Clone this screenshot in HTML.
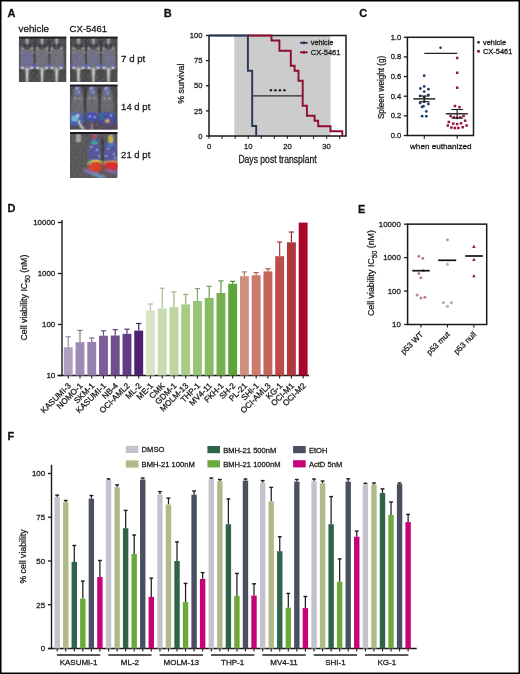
<!DOCTYPE html>
<html><head><meta charset="utf-8"><style>
html,body{margin:0;padding:0;background:#fff;}
svg{display:block;will-change:transform;}
text{font-family:"Liberation Sans", sans-serif;stroke:#1a1a1a;stroke-width:0.28px;paint-order:stroke;}
</style></head><body>
<svg width="520" height="674" viewBox="0 0 520 674">
<rect x="0" y="0" width="520" height="674" fill="#fff"/>
<text x="7.60" y="17.20" font-size="11" text-anchor="start" fill="#111" font-weight="bold" >A</text>
<text x="163.80" y="17.30" font-size="11" text-anchor="start" fill="#111" font-weight="bold" >B</text>
<text x="359.30" y="17.30" font-size="11" text-anchor="start" fill="#111" font-weight="bold" >C</text>
<text x="7.60" y="212.40" font-size="11" text-anchor="start" fill="#111" font-weight="bold" >D</text>
<text x="358.00" y="212.50" font-size="11" text-anchor="start" fill="#111" font-weight="bold" >E</text>
<text x="7.60" y="439.70" font-size="11" text-anchor="start" fill="#111" font-weight="bold" >F</text>
<defs><linearGradient id="bgA" x1="0" y1="0" x2="0" y2="1"><stop offset="0" stop-color="#3a3a3a"/><stop offset="0.15" stop-color="#555"/><stop offset="1" stop-color="#4a4a4a"/></linearGradient><radialGradient id="mouse" cx="0.5" cy="0.45" r="0.6"><stop offset="0" stop-color="#7a7a80"/><stop offset="1" stop-color="#5a5a60"/></radialGradient><filter id="blur1" x="-50%" y="-50%" width="200%" height="200%"><feGaussianBlur stdDeviation="0.85"/></filter><filter id="noise" x="0" y="0" width="100%" height="100%"><feTurbulence type="fractalNoise" baseFrequency="0.45" numOctaves="2" seed="3"/><feColorMatrix type="matrix" values="0 0 0 0 0.5  0 0 0 0 0.5  0 0 0 0 0.5  1.6 0 0 0 -0.55"/></filter><filter id="noise2" x="0" y="0" width="100%" height="100%"><feTurbulence type="fractalNoise" baseFrequency="0.5" numOctaves="2" seed="7"/><feColorMatrix type="matrix" values="0 0 0 0 0.08  0 0 0 0 0.08  0 0 0 0 0.1  1.6 0 0 0 -0.6"/></filter><filter id="blur2" x="-50%" y="-50%" width="200%" height="200%"><feGaussianBlur stdDeviation="1.6"/></filter></defs>
<text x="18.60" y="31.70" font-size="9.7" text-anchor="start" fill="#1a1a1a" textLength="30.4" lengthAdjust="spacingAndGlyphs" >vehicle</text>
<text x="69.60" y="31.70" font-size="9.7" text-anchor="start" fill="#1a1a1a" textLength="37.5" lengthAdjust="spacingAndGlyphs" >CX-5461</text>
<text x="121.10" y="62.20" font-size="9.8" text-anchor="start" fill="#1a1a1a" textLength="24.2" lengthAdjust="spacingAndGlyphs" >7 d pt</text>
<text x="121.10" y="109.90" font-size="9.8" text-anchor="start" fill="#1a1a1a" textLength="29.2" lengthAdjust="spacingAndGlyphs" >14 d pt</text>
<text x="121.10" y="158.00" font-size="9.8" text-anchor="start" fill="#1a1a1a" textLength="29.2" lengthAdjust="spacingAndGlyphs" >21 d pt</text>
<g transform="translate(18.80,36.50)">
<clipPath id="cp18_36"><rect x="0" y="0" width="47.70" height="45.50"/></clipPath>
<g clip-path="url(#cp18_36)">
<rect x="0.00" y="0.00" width="47.70" height="45.50" fill="#4a4a4c" />
<rect x="0.5" y="0" width="1" height="45.50" fill="#000" opacity="0.06"/>
<rect x="3.5" y="0" width="1" height="45.50" fill="#000" opacity="0.06"/>
<rect x="6.5" y="0" width="1" height="45.50" fill="#000" opacity="0.06"/>
<rect x="9.5" y="0" width="1" height="45.50" fill="#000" opacity="0.06"/>
<rect x="12.5" y="0" width="1" height="45.50" fill="#000" opacity="0.06"/>
<rect x="15.5" y="0" width="1" height="45.50" fill="#000" opacity="0.06"/>
<rect x="18.5" y="0" width="1" height="45.50" fill="#000" opacity="0.06"/>
<rect x="21.5" y="0" width="1" height="45.50" fill="#000" opacity="0.06"/>
<rect x="24.5" y="0" width="1" height="45.50" fill="#000" opacity="0.06"/>
<rect x="27.5" y="0" width="1" height="45.50" fill="#000" opacity="0.06"/>
<rect x="30.5" y="0" width="1" height="45.50" fill="#000" opacity="0.06"/>
<rect x="33.5" y="0" width="1" height="45.50" fill="#000" opacity="0.06"/>
<rect x="36.5" y="0" width="1" height="45.50" fill="#000" opacity="0.06"/>
<rect x="39.5" y="0" width="1" height="45.50" fill="#000" opacity="0.06"/>
<rect x="42.5" y="0" width="1" height="45.50" fill="#000" opacity="0.06"/>
<rect x="45.5" y="0" width="1" height="45.50" fill="#000" opacity="0.06"/>
<g filter="url(#blur1)">
<path d="M6.10,4.00 Q8.30,2.50 10.50,4.00 L13.38,11.12 Q16.28,21.10 14.83,32.50 L1.78,32.50 Q0.33,21.10 3.23,11.12 Z" fill="#727276"/><ellipse cx="8.30" cy="6.50" rx="2.2" ry="3.2" fill="#56565a"/>
<path d="M21.10,4.00 Q23.30,2.50 25.50,4.00 L28.38,11.12 Q31.28,21.10 29.83,32.50 L16.77,32.50 Q15.32,21.10 18.23,11.12 Z" fill="#727276"/><ellipse cx="23.30" cy="6.50" rx="2.2" ry="3.2" fill="#56565a"/>
<path d="M35.60,4.00 Q37.80,2.50 40.00,4.00 L42.88,11.12 Q45.77,21.10 44.32,32.50 L31.27,32.50 Q29.82,21.10 32.72,11.12 Z" fill="#727276"/><ellipse cx="37.80" cy="6.50" rx="2.2" ry="3.2" fill="#56565a"/>
<rect x="14.80" y="5" width="2.0" height="22" fill="#2e2e30" opacity="0.7"/>
<rect x="29.55" y="5" width="2.0" height="22" fill="#2e2e30" opacity="0.7"/>
<ellipse cx="8.30" cy="9" rx="4.2" ry="4" fill="#4a4a4e"/>
<rect x="7.30" y="0.5" width="2.0" height="7" rx="1" fill="#c4c4c8"/>
<circle cx="5.50" cy="9.5" r="1.2" fill="#222226"/><circle cx="11.10" cy="9.5" r="1.2" fill="#222226"/>
<circle cx="3.50" cy="12" r="1.2" fill="#a8a8ae"/><circle cx="13.10" cy="12" r="1.2" fill="#a8a8ae"/>
<circle cx="2.50" cy="16" r="1.0" fill="#9a9aa0"/><circle cx="14.10" cy="16" r="1.0" fill="#9a9aa0"/>
<ellipse cx="8.30" cy="22" rx="5.5" ry="7" fill="#6a6ac8" opacity="0.45"/>
<ellipse cx="3.30" cy="29.5" rx="2.4" ry="2" fill="#5a5ae0" opacity="0.6"/><ellipse cx="13.30" cy="29.5" rx="2.4" ry="2" fill="#5a5ae0" opacity="0.6"/>
<ellipse cx="3.80" cy="31.5" rx="1.6" ry="1.3" fill="#ececf0"/><ellipse cx="12.80" cy="31.5" rx="1.6" ry="1.3" fill="#ececf0"/>
<ellipse cx="2.80" cy="33.5" rx="2" ry="1" fill="#2a2a2c" opacity="0.8"/><ellipse cx="13.80" cy="33.5" rx="2" ry="1" fill="#2a2a2c" opacity="0.8"/>
<path d="M7.20,32 L9.40,32 L9.00,45.5 L7.60,45.5 Z" fill="#f4f4f4"/>
<ellipse cx="8.30" cy="32.5" rx="2" ry="1.6" fill="#c8c8cc"/>
<ellipse cx="23.30" cy="9" rx="4.2" ry="4" fill="#4a4a4e"/>
<rect x="22.30" y="0.5" width="2.0" height="7" rx="1" fill="#c4c4c8"/>
<circle cx="20.50" cy="9.5" r="1.2" fill="#222226"/><circle cx="26.10" cy="9.5" r="1.2" fill="#222226"/>
<circle cx="18.50" cy="12" r="1.2" fill="#a8a8ae"/><circle cx="28.10" cy="12" r="1.2" fill="#a8a8ae"/>
<circle cx="17.50" cy="16" r="1.0" fill="#9a9aa0"/><circle cx="29.10" cy="16" r="1.0" fill="#9a9aa0"/>
<ellipse cx="23.30" cy="22" rx="5.5" ry="7" fill="#6a6ac8" opacity="0.15"/>
<ellipse cx="18.30" cy="29.5" rx="2.4" ry="2" fill="#5a5ae0" opacity="0.6"/><ellipse cx="28.30" cy="29.5" rx="2.4" ry="2" fill="#5a5ae0" opacity="0.6"/>
<ellipse cx="18.80" cy="31.5" rx="1.6" ry="1.3" fill="#ececf0"/><ellipse cx="27.80" cy="31.5" rx="1.6" ry="1.3" fill="#ececf0"/>
<ellipse cx="17.80" cy="33.5" rx="2" ry="1" fill="#2a2a2c" opacity="0.8"/><ellipse cx="28.80" cy="33.5" rx="2" ry="1" fill="#2a2a2c" opacity="0.8"/>
<path d="M22.20,32 L24.40,32 L24.00,45.5 L22.60,45.5 Z" fill="#f4f4f4"/>
<ellipse cx="23.30" cy="32.5" rx="2" ry="1.6" fill="#c8c8cc"/>
<ellipse cx="37.80" cy="9" rx="4.2" ry="4" fill="#4a4a4e"/>
<rect x="36.80" y="0.5" width="2.0" height="7" rx="1" fill="#c4c4c8"/>
<circle cx="35.00" cy="9.5" r="1.2" fill="#222226"/><circle cx="40.60" cy="9.5" r="1.2" fill="#222226"/>
<circle cx="33.00" cy="12" r="1.2" fill="#a8a8ae"/><circle cx="42.60" cy="12" r="1.2" fill="#a8a8ae"/>
<circle cx="32.00" cy="16" r="1.0" fill="#9a9aa0"/><circle cx="43.60" cy="16" r="1.0" fill="#9a9aa0"/>
<ellipse cx="37.80" cy="22" rx="5.5" ry="7" fill="#6a6ac8" opacity="0.1"/>
<ellipse cx="32.80" cy="29.5" rx="2.4" ry="2" fill="#5a5ae0" opacity="0.6"/><ellipse cx="42.80" cy="29.5" rx="2.4" ry="2" fill="#5a5ae0" opacity="0.6"/>
<ellipse cx="33.30" cy="31.5" rx="1.6" ry="1.3" fill="#ececf0"/><ellipse cx="42.30" cy="31.5" rx="1.6" ry="1.3" fill="#ececf0"/>
<ellipse cx="32.30" cy="33.5" rx="2" ry="1" fill="#2a2a2c" opacity="0.8"/><ellipse cx="43.30" cy="33.5" rx="2" ry="1" fill="#2a2a2c" opacity="0.8"/>
<path d="M36.70,32 L38.90,32 L38.50,45.5 L37.10,45.5 Z" fill="#f4f4f4"/>
<ellipse cx="37.80" cy="32.5" rx="2" ry="1.6" fill="#c8c8cc"/>
</g>
<g opacity="0.45">
<path d="M6.10,4.00 Q8.30,2.50 10.50,4.00 L13.38,11.12 Q16.28,21.10 14.83,32.50 L1.78,32.50 Q0.33,21.10 3.23,11.12 Z" fill="#727276"/><ellipse cx="8.30" cy="6.50" rx="2.2" ry="3.2" fill="#56565a"/>
<path d="M21.10,4.00 Q23.30,2.50 25.50,4.00 L28.38,11.12 Q31.28,21.10 29.83,32.50 L16.77,32.50 Q15.32,21.10 18.23,11.12 Z" fill="#727276"/><ellipse cx="23.30" cy="6.50" rx="2.2" ry="3.2" fill="#56565a"/>
<path d="M35.60,4.00 Q37.80,2.50 40.00,4.00 L42.88,11.12 Q45.77,21.10 44.32,32.50 L31.27,32.50 Q29.82,21.10 32.72,11.12 Z" fill="#727276"/><ellipse cx="37.80" cy="6.50" rx="2.2" ry="3.2" fill="#56565a"/>
<rect x="14.80" y="5" width="2.0" height="22" fill="#2e2e30" opacity="0.7"/>
<rect x="29.55" y="5" width="2.0" height="22" fill="#2e2e30" opacity="0.7"/>
<ellipse cx="8.30" cy="9" rx="4.2" ry="4" fill="#4a4a4e"/>
<rect x="7.30" y="0.5" width="2.0" height="7" rx="1" fill="#c4c4c8"/>
<circle cx="5.50" cy="9.5" r="1.2" fill="#222226"/><circle cx="11.10" cy="9.5" r="1.2" fill="#222226"/>
<circle cx="3.50" cy="12" r="1.2" fill="#a8a8ae"/><circle cx="13.10" cy="12" r="1.2" fill="#a8a8ae"/>
<circle cx="2.50" cy="16" r="1.0" fill="#9a9aa0"/><circle cx="14.10" cy="16" r="1.0" fill="#9a9aa0"/>
<ellipse cx="8.30" cy="22" rx="5.5" ry="7" fill="#6a6ac8" opacity="0.45"/>
<ellipse cx="3.30" cy="29.5" rx="2.4" ry="2" fill="#5a5ae0" opacity="0.6"/><ellipse cx="13.30" cy="29.5" rx="2.4" ry="2" fill="#5a5ae0" opacity="0.6"/>
<ellipse cx="3.80" cy="31.5" rx="1.6" ry="1.3" fill="#ececf0"/><ellipse cx="12.80" cy="31.5" rx="1.6" ry="1.3" fill="#ececf0"/>
<ellipse cx="2.80" cy="33.5" rx="2" ry="1" fill="#2a2a2c" opacity="0.8"/><ellipse cx="13.80" cy="33.5" rx="2" ry="1" fill="#2a2a2c" opacity="0.8"/>
<path d="M7.20,32 L9.40,32 L9.00,45.5 L7.60,45.5 Z" fill="#f4f4f4"/>
<ellipse cx="8.30" cy="32.5" rx="2" ry="1.6" fill="#c8c8cc"/>
<ellipse cx="23.30" cy="9" rx="4.2" ry="4" fill="#4a4a4e"/>
<rect x="22.30" y="0.5" width="2.0" height="7" rx="1" fill="#c4c4c8"/>
<circle cx="20.50" cy="9.5" r="1.2" fill="#222226"/><circle cx="26.10" cy="9.5" r="1.2" fill="#222226"/>
<circle cx="18.50" cy="12" r="1.2" fill="#a8a8ae"/><circle cx="28.10" cy="12" r="1.2" fill="#a8a8ae"/>
<circle cx="17.50" cy="16" r="1.0" fill="#9a9aa0"/><circle cx="29.10" cy="16" r="1.0" fill="#9a9aa0"/>
<ellipse cx="23.30" cy="22" rx="5.5" ry="7" fill="#6a6ac8" opacity="0.15"/>
<ellipse cx="18.30" cy="29.5" rx="2.4" ry="2" fill="#5a5ae0" opacity="0.6"/><ellipse cx="28.30" cy="29.5" rx="2.4" ry="2" fill="#5a5ae0" opacity="0.6"/>
<ellipse cx="18.80" cy="31.5" rx="1.6" ry="1.3" fill="#ececf0"/><ellipse cx="27.80" cy="31.5" rx="1.6" ry="1.3" fill="#ececf0"/>
<ellipse cx="17.80" cy="33.5" rx="2" ry="1" fill="#2a2a2c" opacity="0.8"/><ellipse cx="28.80" cy="33.5" rx="2" ry="1" fill="#2a2a2c" opacity="0.8"/>
<path d="M22.20,32 L24.40,32 L24.00,45.5 L22.60,45.5 Z" fill="#f4f4f4"/>
<ellipse cx="23.30" cy="32.5" rx="2" ry="1.6" fill="#c8c8cc"/>
<ellipse cx="37.80" cy="9" rx="4.2" ry="4" fill="#4a4a4e"/>
<rect x="36.80" y="0.5" width="2.0" height="7" rx="1" fill="#c4c4c8"/>
<circle cx="35.00" cy="9.5" r="1.2" fill="#222226"/><circle cx="40.60" cy="9.5" r="1.2" fill="#222226"/>
<circle cx="33.00" cy="12" r="1.2" fill="#a8a8ae"/><circle cx="42.60" cy="12" r="1.2" fill="#a8a8ae"/>
<circle cx="32.00" cy="16" r="1.0" fill="#9a9aa0"/><circle cx="43.60" cy="16" r="1.0" fill="#9a9aa0"/>
<ellipse cx="37.80" cy="22" rx="5.5" ry="7" fill="#6a6ac8" opacity="0.1"/>
<ellipse cx="32.80" cy="29.5" rx="2.4" ry="2" fill="#5a5ae0" opacity="0.6"/><ellipse cx="42.80" cy="29.5" rx="2.4" ry="2" fill="#5a5ae0" opacity="0.6"/>
<ellipse cx="33.30" cy="31.5" rx="1.6" ry="1.3" fill="#ececf0"/><ellipse cx="42.30" cy="31.5" rx="1.6" ry="1.3" fill="#ececf0"/>
<ellipse cx="32.30" cy="33.5" rx="2" ry="1" fill="#2a2a2c" opacity="0.8"/><ellipse cx="43.30" cy="33.5" rx="2" ry="1" fill="#2a2a2c" opacity="0.8"/>
<path d="M36.70,32 L38.90,32 L38.50,45.5 L37.10,45.5 Z" fill="#f4f4f4"/>
<ellipse cx="37.80" cy="32.5" rx="2" ry="1.6" fill="#c8c8cc"/>
</g>
<rect x="0" y="0" width="47.70" height="45.50" filter="url(#noise)" opacity="0.22"/>
<rect x="0" y="0" width="47.70" height="45.50" filter="url(#noise2)" opacity="0.3"/>
<rect x="0.00" y="0.00" width="47.70" height="2.00" fill="#1c1c1c" />
</g></g>
<g transform="translate(70.00,36.50)">
<clipPath id="cp70_36"><rect x="0" y="0" width="47.70" height="45.50"/></clipPath>
<g clip-path="url(#cp70_36)">
<rect x="0.00" y="0.00" width="47.70" height="45.50" fill="#4a4a4c" />
<rect x="0.5" y="0" width="1" height="45.50" fill="#000" opacity="0.06"/>
<rect x="3.5" y="0" width="1" height="45.50" fill="#000" opacity="0.06"/>
<rect x="6.5" y="0" width="1" height="45.50" fill="#000" opacity="0.06"/>
<rect x="9.5" y="0" width="1" height="45.50" fill="#000" opacity="0.06"/>
<rect x="12.5" y="0" width="1" height="45.50" fill="#000" opacity="0.06"/>
<rect x="15.5" y="0" width="1" height="45.50" fill="#000" opacity="0.06"/>
<rect x="18.5" y="0" width="1" height="45.50" fill="#000" opacity="0.06"/>
<rect x="21.5" y="0" width="1" height="45.50" fill="#000" opacity="0.06"/>
<rect x="24.5" y="0" width="1" height="45.50" fill="#000" opacity="0.06"/>
<rect x="27.5" y="0" width="1" height="45.50" fill="#000" opacity="0.06"/>
<rect x="30.5" y="0" width="1" height="45.50" fill="#000" opacity="0.06"/>
<rect x="33.5" y="0" width="1" height="45.50" fill="#000" opacity="0.06"/>
<rect x="36.5" y="0" width="1" height="45.50" fill="#000" opacity="0.06"/>
<rect x="39.5" y="0" width="1" height="45.50" fill="#000" opacity="0.06"/>
<rect x="42.5" y="0" width="1" height="45.50" fill="#000" opacity="0.06"/>
<rect x="45.5" y="0" width="1" height="45.50" fill="#000" opacity="0.06"/>
<g filter="url(#blur1)">
<path d="M6.30,4.00 Q8.50,2.50 10.70,4.00 L13.57,11.12 Q16.48,21.10 15.03,32.50 L1.97,32.50 Q0.52,21.10 3.43,11.12 Z" fill="#727276"/><ellipse cx="8.50" cy="6.50" rx="2.2" ry="3.2" fill="#56565a"/>
<path d="M21.30,4.00 Q23.50,2.50 25.70,4.00 L28.57,11.12 Q31.48,21.10 30.02,32.50 L16.98,32.50 Q15.52,21.10 18.43,11.12 Z" fill="#727276"/><ellipse cx="23.50" cy="6.50" rx="2.2" ry="3.2" fill="#56565a"/>
<path d="M36.30,4.00 Q38.50,2.50 40.70,4.00 L43.58,11.12 Q46.48,21.10 45.02,32.50 L31.98,32.50 Q30.52,21.10 33.42,11.12 Z" fill="#727276"/><ellipse cx="38.50" cy="6.50" rx="2.2" ry="3.2" fill="#56565a"/>
<rect x="15.00" y="5" width="2.0" height="22" fill="#2e2e30" opacity="0.7"/>
<rect x="30.00" y="5" width="2.0" height="22" fill="#2e2e30" opacity="0.7"/>
<ellipse cx="8.50" cy="9" rx="4.2" ry="4" fill="#4a4a4e"/>
<rect x="7.50" y="0.5" width="2.0" height="7" rx="1" fill="#c4c4c8"/>
<circle cx="5.70" cy="9.5" r="1.2" fill="#222226"/><circle cx="11.30" cy="9.5" r="1.2" fill="#222226"/>
<circle cx="3.70" cy="12" r="1.2" fill="#a8a8ae"/><circle cx="13.30" cy="12" r="1.2" fill="#a8a8ae"/>
<circle cx="2.70" cy="16" r="1.0" fill="#9a9aa0"/><circle cx="14.30" cy="16" r="1.0" fill="#9a9aa0"/>
<ellipse cx="8.50" cy="22" rx="5.5" ry="7" fill="#6a6ac8" opacity="0.3"/>
<ellipse cx="3.50" cy="29.5" rx="2.4" ry="2" fill="#5a5ae0" opacity="0.6"/><ellipse cx="13.50" cy="29.5" rx="2.4" ry="2" fill="#5a5ae0" opacity="0.6"/>
<ellipse cx="4.00" cy="31.5" rx="1.6" ry="1.3" fill="#ececf0"/><ellipse cx="13.00" cy="31.5" rx="1.6" ry="1.3" fill="#ececf0"/>
<ellipse cx="3.00" cy="33.5" rx="2" ry="1" fill="#2a2a2c" opacity="0.8"/><ellipse cx="14.00" cy="33.5" rx="2" ry="1" fill="#2a2a2c" opacity="0.8"/>
<path d="M7.40,32 L9.60,32 L9.20,45.5 L7.80,45.5 Z" fill="#f4f4f4"/>
<ellipse cx="8.50" cy="32.5" rx="2" ry="1.6" fill="#c8c8cc"/>
<ellipse cx="23.50" cy="9" rx="4.2" ry="4" fill="#4a4a4e"/>
<rect x="22.50" y="0.5" width="2.0" height="7" rx="1" fill="#c4c4c8"/>
<circle cx="20.70" cy="9.5" r="1.2" fill="#222226"/><circle cx="26.30" cy="9.5" r="1.2" fill="#222226"/>
<circle cx="18.70" cy="12" r="1.2" fill="#a8a8ae"/><circle cx="28.30" cy="12" r="1.2" fill="#a8a8ae"/>
<circle cx="17.70" cy="16" r="1.0" fill="#9a9aa0"/><circle cx="29.30" cy="16" r="1.0" fill="#9a9aa0"/>
<ellipse cx="23.50" cy="22" rx="5.5" ry="7" fill="#6a6ac8" opacity="0.35"/>
<ellipse cx="18.50" cy="29.5" rx="2.4" ry="2" fill="#5a5ae0" opacity="0.6"/><ellipse cx="28.50" cy="29.5" rx="2.4" ry="2" fill="#5a5ae0" opacity="0.6"/>
<ellipse cx="19.00" cy="31.5" rx="1.6" ry="1.3" fill="#ececf0"/><ellipse cx="28.00" cy="31.5" rx="1.6" ry="1.3" fill="#ececf0"/>
<ellipse cx="18.00" cy="33.5" rx="2" ry="1" fill="#2a2a2c" opacity="0.8"/><ellipse cx="29.00" cy="33.5" rx="2" ry="1" fill="#2a2a2c" opacity="0.8"/>
<path d="M22.40,32 L24.60,32 L24.20,45.5 L22.80,45.5 Z" fill="#f4f4f4"/>
<ellipse cx="23.50" cy="32.5" rx="2" ry="1.6" fill="#c8c8cc"/>
<ellipse cx="38.50" cy="9" rx="4.2" ry="4" fill="#4a4a4e"/>
<rect x="37.50" y="0.5" width="2.0" height="7" rx="1" fill="#c4c4c8"/>
<circle cx="35.70" cy="9.5" r="1.2" fill="#222226"/><circle cx="41.30" cy="9.5" r="1.2" fill="#222226"/>
<circle cx="33.70" cy="12" r="1.2" fill="#a8a8ae"/><circle cx="43.30" cy="12" r="1.2" fill="#a8a8ae"/>
<circle cx="32.70" cy="16" r="1.0" fill="#9a9aa0"/><circle cx="44.30" cy="16" r="1.0" fill="#9a9aa0"/>
<ellipse cx="38.50" cy="22" rx="5.5" ry="7" fill="#6a6ac8" opacity="0.3"/>
<ellipse cx="33.50" cy="29.5" rx="2.4" ry="2" fill="#5a5ae0" opacity="0.6"/><ellipse cx="43.50" cy="29.5" rx="2.4" ry="2" fill="#5a5ae0" opacity="0.6"/>
<ellipse cx="34.00" cy="31.5" rx="1.6" ry="1.3" fill="#ececf0"/><ellipse cx="43.00" cy="31.5" rx="1.6" ry="1.3" fill="#ececf0"/>
<ellipse cx="33.00" cy="33.5" rx="2" ry="1" fill="#2a2a2c" opacity="0.8"/><ellipse cx="44.00" cy="33.5" rx="2" ry="1" fill="#2a2a2c" opacity="0.8"/>
<path d="M37.40,32 L39.60,32 L39.20,45.5 L37.80,45.5 Z" fill="#f4f4f4"/>
<ellipse cx="38.50" cy="32.5" rx="2" ry="1.6" fill="#c8c8cc"/>
</g>
<g opacity="0.45">
<path d="M6.30,4.00 Q8.50,2.50 10.70,4.00 L13.57,11.12 Q16.48,21.10 15.03,32.50 L1.97,32.50 Q0.52,21.10 3.43,11.12 Z" fill="#727276"/><ellipse cx="8.50" cy="6.50" rx="2.2" ry="3.2" fill="#56565a"/>
<path d="M21.30,4.00 Q23.50,2.50 25.70,4.00 L28.57,11.12 Q31.48,21.10 30.02,32.50 L16.98,32.50 Q15.52,21.10 18.43,11.12 Z" fill="#727276"/><ellipse cx="23.50" cy="6.50" rx="2.2" ry="3.2" fill="#56565a"/>
<path d="M36.30,4.00 Q38.50,2.50 40.70,4.00 L43.58,11.12 Q46.48,21.10 45.02,32.50 L31.98,32.50 Q30.52,21.10 33.42,11.12 Z" fill="#727276"/><ellipse cx="38.50" cy="6.50" rx="2.2" ry="3.2" fill="#56565a"/>
<rect x="15.00" y="5" width="2.0" height="22" fill="#2e2e30" opacity="0.7"/>
<rect x="30.00" y="5" width="2.0" height="22" fill="#2e2e30" opacity="0.7"/>
<ellipse cx="8.50" cy="9" rx="4.2" ry="4" fill="#4a4a4e"/>
<rect x="7.50" y="0.5" width="2.0" height="7" rx="1" fill="#c4c4c8"/>
<circle cx="5.70" cy="9.5" r="1.2" fill="#222226"/><circle cx="11.30" cy="9.5" r="1.2" fill="#222226"/>
<circle cx="3.70" cy="12" r="1.2" fill="#a8a8ae"/><circle cx="13.30" cy="12" r="1.2" fill="#a8a8ae"/>
<circle cx="2.70" cy="16" r="1.0" fill="#9a9aa0"/><circle cx="14.30" cy="16" r="1.0" fill="#9a9aa0"/>
<ellipse cx="8.50" cy="22" rx="5.5" ry="7" fill="#6a6ac8" opacity="0.3"/>
<ellipse cx="3.50" cy="29.5" rx="2.4" ry="2" fill="#5a5ae0" opacity="0.6"/><ellipse cx="13.50" cy="29.5" rx="2.4" ry="2" fill="#5a5ae0" opacity="0.6"/>
<ellipse cx="4.00" cy="31.5" rx="1.6" ry="1.3" fill="#ececf0"/><ellipse cx="13.00" cy="31.5" rx="1.6" ry="1.3" fill="#ececf0"/>
<ellipse cx="3.00" cy="33.5" rx="2" ry="1" fill="#2a2a2c" opacity="0.8"/><ellipse cx="14.00" cy="33.5" rx="2" ry="1" fill="#2a2a2c" opacity="0.8"/>
<path d="M7.40,32 L9.60,32 L9.20,45.5 L7.80,45.5 Z" fill="#f4f4f4"/>
<ellipse cx="8.50" cy="32.5" rx="2" ry="1.6" fill="#c8c8cc"/>
<ellipse cx="23.50" cy="9" rx="4.2" ry="4" fill="#4a4a4e"/>
<rect x="22.50" y="0.5" width="2.0" height="7" rx="1" fill="#c4c4c8"/>
<circle cx="20.70" cy="9.5" r="1.2" fill="#222226"/><circle cx="26.30" cy="9.5" r="1.2" fill="#222226"/>
<circle cx="18.70" cy="12" r="1.2" fill="#a8a8ae"/><circle cx="28.30" cy="12" r="1.2" fill="#a8a8ae"/>
<circle cx="17.70" cy="16" r="1.0" fill="#9a9aa0"/><circle cx="29.30" cy="16" r="1.0" fill="#9a9aa0"/>
<ellipse cx="23.50" cy="22" rx="5.5" ry="7" fill="#6a6ac8" opacity="0.35"/>
<ellipse cx="18.50" cy="29.5" rx="2.4" ry="2" fill="#5a5ae0" opacity="0.6"/><ellipse cx="28.50" cy="29.5" rx="2.4" ry="2" fill="#5a5ae0" opacity="0.6"/>
<ellipse cx="19.00" cy="31.5" rx="1.6" ry="1.3" fill="#ececf0"/><ellipse cx="28.00" cy="31.5" rx="1.6" ry="1.3" fill="#ececf0"/>
<ellipse cx="18.00" cy="33.5" rx="2" ry="1" fill="#2a2a2c" opacity="0.8"/><ellipse cx="29.00" cy="33.5" rx="2" ry="1" fill="#2a2a2c" opacity="0.8"/>
<path d="M22.40,32 L24.60,32 L24.20,45.5 L22.80,45.5 Z" fill="#f4f4f4"/>
<ellipse cx="23.50" cy="32.5" rx="2" ry="1.6" fill="#c8c8cc"/>
<ellipse cx="38.50" cy="9" rx="4.2" ry="4" fill="#4a4a4e"/>
<rect x="37.50" y="0.5" width="2.0" height="7" rx="1" fill="#c4c4c8"/>
<circle cx="35.70" cy="9.5" r="1.2" fill="#222226"/><circle cx="41.30" cy="9.5" r="1.2" fill="#222226"/>
<circle cx="33.70" cy="12" r="1.2" fill="#a8a8ae"/><circle cx="43.30" cy="12" r="1.2" fill="#a8a8ae"/>
<circle cx="32.70" cy="16" r="1.0" fill="#9a9aa0"/><circle cx="44.30" cy="16" r="1.0" fill="#9a9aa0"/>
<ellipse cx="38.50" cy="22" rx="5.5" ry="7" fill="#6a6ac8" opacity="0.3"/>
<ellipse cx="33.50" cy="29.5" rx="2.4" ry="2" fill="#5a5ae0" opacity="0.6"/><ellipse cx="43.50" cy="29.5" rx="2.4" ry="2" fill="#5a5ae0" opacity="0.6"/>
<ellipse cx="34.00" cy="31.5" rx="1.6" ry="1.3" fill="#ececf0"/><ellipse cx="43.00" cy="31.5" rx="1.6" ry="1.3" fill="#ececf0"/>
<ellipse cx="33.00" cy="33.5" rx="2" ry="1" fill="#2a2a2c" opacity="0.8"/><ellipse cx="44.00" cy="33.5" rx="2" ry="1" fill="#2a2a2c" opacity="0.8"/>
<path d="M37.40,32 L39.60,32 L39.20,45.5 L37.80,45.5 Z" fill="#f4f4f4"/>
<ellipse cx="38.50" cy="32.5" rx="2" ry="1.6" fill="#c8c8cc"/>
</g>
<rect x="0" y="0" width="47.70" height="45.50" filter="url(#noise)" opacity="0.22"/>
<rect x="0" y="0" width="47.70" height="45.50" filter="url(#noise2)" opacity="0.3"/>
<rect x="0.00" y="0.00" width="47.70" height="2.00" fill="#1c1c1c" />
</g></g>
<g transform="translate(69.80,84.40)">
<clipPath id="cp69_84"><rect x="0" y="0" width="47.90" height="45.30"/></clipPath>
<g clip-path="url(#cp69_84)">
<rect x="0.00" y="0.00" width="47.90" height="45.30" fill="#4a4a4c" />
<rect x="0.5" y="0" width="1" height="45.30" fill="#000" opacity="0.06"/>
<rect x="3.5" y="0" width="1" height="45.30" fill="#000" opacity="0.06"/>
<rect x="6.5" y="0" width="1" height="45.30" fill="#000" opacity="0.06"/>
<rect x="9.5" y="0" width="1" height="45.30" fill="#000" opacity="0.06"/>
<rect x="12.5" y="0" width="1" height="45.30" fill="#000" opacity="0.06"/>
<rect x="15.5" y="0" width="1" height="45.30" fill="#000" opacity="0.06"/>
<rect x="18.5" y="0" width="1" height="45.30" fill="#000" opacity="0.06"/>
<rect x="21.5" y="0" width="1" height="45.30" fill="#000" opacity="0.06"/>
<rect x="24.5" y="0" width="1" height="45.30" fill="#000" opacity="0.06"/>
<rect x="27.5" y="0" width="1" height="45.30" fill="#000" opacity="0.06"/>
<rect x="30.5" y="0" width="1" height="45.30" fill="#000" opacity="0.06"/>
<rect x="33.5" y="0" width="1" height="45.30" fill="#000" opacity="0.06"/>
<rect x="36.5" y="0" width="1" height="45.30" fill="#000" opacity="0.06"/>
<rect x="39.5" y="0" width="1" height="45.30" fill="#000" opacity="0.06"/>
<rect x="42.5" y="0" width="1" height="45.30" fill="#000" opacity="0.06"/>
<rect x="45.5" y="0" width="1" height="45.30" fill="#000" opacity="0.06"/>
<g filter="url(#blur1)">
<path d="M5.80,2.00 Q8.00,0.50 10.20,2.00 L12.90,9.00 Q15.70,18.80 14.30,30.00 L1.70,30.00 Q0.30,18.80 3.10,9.00 Z" fill="#6a6a6e"/><ellipse cx="8.00" cy="4.50" rx="2.2" ry="3.2" fill="#7a7a80"/>
<path d="M20.30,2.00 Q22.50,0.50 24.70,2.00 L27.40,9.00 Q30.20,18.80 28.80,30.00 L16.20,30.00 Q14.80,18.80 17.60,9.00 Z" fill="#6a6a6e"/><ellipse cx="22.50" cy="4.50" rx="2.2" ry="3.2" fill="#7a7a80"/>
<path d="M34.80,2.00 Q37.00,0.50 39.20,2.00 L41.90,9.00 Q44.70,18.80 43.30,30.00 L30.70,30.00 Q29.30,18.80 32.10,9.00 Z" fill="#6a6a6e"/><ellipse cx="37.00" cy="4.50" rx="2.2" ry="3.2" fill="#7a7a80"/>
<rect x="14.00" y="4" width="2.4" height="24" fill="#2a2a2c" opacity="0.8"/>
<rect x="28.60" y="4" width="2.4" height="24" fill="#2a2a2c" opacity="0.8"/>
<ellipse cx="8.00" cy="6" rx="3.2" ry="5.5" fill="#6a72c8" opacity="0.65"/>
<circle cx="7.00" cy="4" r="1.1" fill="#d0d8f8" opacity="0.9"/><circle cx="9.20" cy="8" r="0.9" fill="#c0c8f0" opacity="0.8"/>
<circle cx="5.50" cy="14" r="1.3" fill="#9a9aa8" opacity="0.9"/><circle cx="10.50" cy="14" r="1.3" fill="#9a9aa8" opacity="0.9"/>
<ellipse cx="22.50" cy="6" rx="3.2" ry="5.5" fill="#6a72c8" opacity="0.65"/>
<circle cx="21.50" cy="4" r="1.1" fill="#d0d8f8" opacity="0.9"/><circle cx="23.70" cy="8" r="0.9" fill="#c0c8f0" opacity="0.8"/>
<circle cx="20.00" cy="14" r="1.3" fill="#9a9aa8" opacity="0.9"/><circle cx="25.00" cy="14" r="1.3" fill="#9a9aa8" opacity="0.9"/>
<ellipse cx="37.00" cy="6" rx="3.2" ry="5.5" fill="#6a72c8" opacity="0.65"/>
<circle cx="36.00" cy="4" r="1.1" fill="#d0d8f8" opacity="0.9"/><circle cx="38.20" cy="8" r="0.9" fill="#c0c8f0" opacity="0.8"/>
<circle cx="34.50" cy="14" r="1.3" fill="#9a9aa8" opacity="0.9"/><circle cx="39.50" cy="14" r="1.3" fill="#9a9aa8" opacity="0.9"/>
<path d="M0,29 Q6,26 13,29 L14,38 Q8,42 0,41 Z" fill="#4a62c0" opacity="0.85"/>
<ellipse cx="5" cy="34" rx="3.5" ry="3" fill="#78c0e0"/>
<circle cx="8" cy="31" r="1.3" fill="#d8f0ff"/>
<path d="M16,29 Q22,26 29,29 L28,36 Q22,38 16,36 Z" fill="#3c48b8" opacity="0.85"/>
<circle cx="20" cy="32" r="1.2" fill="#a0b0f0"/><circle cx="25" cy="32.5" r="1.2" fill="#a0b0f0"/>
<path d="M29.5,29 Q37,26 45,29 L45,39 Q37,42 29.5,38 Z" fill="#3c4ab8" opacity="0.85"/>
<circle cx="31.5" cy="32.5" r="2" fill="#28a080"/>
<circle cx="31.5" cy="32.5" r="0.9" fill="#102040"/>
<circle cx="37.5" cy="36.5" r="2.2" fill="#e0b030"/>
<circle cx="41" cy="31" r="1.2" fill="#a0b0f0"/>
<path d="M9,36 Q10,42 15,46" stroke="#ececec" stroke-width="1.5" fill="none"/>
<rect x="21.6" y="39" width="1.4" height="7" fill="#d8d8d8"/>
<rect x="14" y="38" width="34" height="8" fill="#5a4868" opacity="0.45"/>
</g>
<g opacity="0.45">
<path d="M5.80,2.00 Q8.00,0.50 10.20,2.00 L12.90,9.00 Q15.70,18.80 14.30,30.00 L1.70,30.00 Q0.30,18.80 3.10,9.00 Z" fill="#6a6a6e"/><ellipse cx="8.00" cy="4.50" rx="2.2" ry="3.2" fill="#7a7a80"/>
<path d="M20.30,2.00 Q22.50,0.50 24.70,2.00 L27.40,9.00 Q30.20,18.80 28.80,30.00 L16.20,30.00 Q14.80,18.80 17.60,9.00 Z" fill="#6a6a6e"/><ellipse cx="22.50" cy="4.50" rx="2.2" ry="3.2" fill="#7a7a80"/>
<path d="M34.80,2.00 Q37.00,0.50 39.20,2.00 L41.90,9.00 Q44.70,18.80 43.30,30.00 L30.70,30.00 Q29.30,18.80 32.10,9.00 Z" fill="#6a6a6e"/><ellipse cx="37.00" cy="4.50" rx="2.2" ry="3.2" fill="#7a7a80"/>
<rect x="14.00" y="4" width="2.4" height="24" fill="#2a2a2c" opacity="0.8"/>
<rect x="28.60" y="4" width="2.4" height="24" fill="#2a2a2c" opacity="0.8"/>
<ellipse cx="8.00" cy="6" rx="3.2" ry="5.5" fill="#6a72c8" opacity="0.65"/>
<circle cx="7.00" cy="4" r="1.1" fill="#d0d8f8" opacity="0.9"/><circle cx="9.20" cy="8" r="0.9" fill="#c0c8f0" opacity="0.8"/>
<circle cx="5.50" cy="14" r="1.3" fill="#9a9aa8" opacity="0.9"/><circle cx="10.50" cy="14" r="1.3" fill="#9a9aa8" opacity="0.9"/>
<ellipse cx="22.50" cy="6" rx="3.2" ry="5.5" fill="#6a72c8" opacity="0.65"/>
<circle cx="21.50" cy="4" r="1.1" fill="#d0d8f8" opacity="0.9"/><circle cx="23.70" cy="8" r="0.9" fill="#c0c8f0" opacity="0.8"/>
<circle cx="20.00" cy="14" r="1.3" fill="#9a9aa8" opacity="0.9"/><circle cx="25.00" cy="14" r="1.3" fill="#9a9aa8" opacity="0.9"/>
<ellipse cx="37.00" cy="6" rx="3.2" ry="5.5" fill="#6a72c8" opacity="0.65"/>
<circle cx="36.00" cy="4" r="1.1" fill="#d0d8f8" opacity="0.9"/><circle cx="38.20" cy="8" r="0.9" fill="#c0c8f0" opacity="0.8"/>
<circle cx="34.50" cy="14" r="1.3" fill="#9a9aa8" opacity="0.9"/><circle cx="39.50" cy="14" r="1.3" fill="#9a9aa8" opacity="0.9"/>
<path d="M0,29 Q6,26 13,29 L14,38 Q8,42 0,41 Z" fill="#4a62c0" opacity="0.85"/>
<ellipse cx="5" cy="34" rx="3.5" ry="3" fill="#78c0e0"/>
<circle cx="8" cy="31" r="1.3" fill="#d8f0ff"/>
<path d="M16,29 Q22,26 29,29 L28,36 Q22,38 16,36 Z" fill="#3c48b8" opacity="0.85"/>
<circle cx="20" cy="32" r="1.2" fill="#a0b0f0"/><circle cx="25" cy="32.5" r="1.2" fill="#a0b0f0"/>
<path d="M29.5,29 Q37,26 45,29 L45,39 Q37,42 29.5,38 Z" fill="#3c4ab8" opacity="0.85"/>
<circle cx="31.5" cy="32.5" r="2" fill="#28a080"/>
<circle cx="31.5" cy="32.5" r="0.9" fill="#102040"/>
<circle cx="37.5" cy="36.5" r="2.2" fill="#e0b030"/>
<circle cx="41" cy="31" r="1.2" fill="#a0b0f0"/>
<path d="M9,36 Q10,42 15,46" stroke="#ececec" stroke-width="1.5" fill="none"/>
<rect x="21.6" y="39" width="1.4" height="7" fill="#d8d8d8"/>
<rect x="14" y="38" width="34" height="8" fill="#5a4868" opacity="0.45"/>
</g>
<rect x="0" y="0" width="47.90" height="45.30" filter="url(#noise)" opacity="0.22"/>
<rect x="0" y="0" width="47.90" height="45.30" filter="url(#noise2)" opacity="0.3"/>
<rect x="0.00" y="0.00" width="47.90" height="2.00" fill="#1c1c1c" />
</g></g>
<g transform="translate(70.00,132.00)">
<clipPath id="cp70_132"><rect x="0" y="0" width="47.60" height="46.00"/></clipPath>
<g clip-path="url(#cp70_132)">
<rect x="0.00" y="0.00" width="47.60" height="46.00" fill="#58585a" />
<rect x="0.5" y="0" width="1" height="46.00" fill="#000" opacity="0.06"/>
<rect x="3.5" y="0" width="1" height="46.00" fill="#000" opacity="0.06"/>
<rect x="6.5" y="0" width="1" height="46.00" fill="#000" opacity="0.06"/>
<rect x="9.5" y="0" width="1" height="46.00" fill="#000" opacity="0.06"/>
<rect x="12.5" y="0" width="1" height="46.00" fill="#000" opacity="0.06"/>
<rect x="15.5" y="0" width="1" height="46.00" fill="#000" opacity="0.06"/>
<rect x="18.5" y="0" width="1" height="46.00" fill="#000" opacity="0.06"/>
<rect x="21.5" y="0" width="1" height="46.00" fill="#000" opacity="0.06"/>
<rect x="24.5" y="0" width="1" height="46.00" fill="#000" opacity="0.06"/>
<rect x="27.5" y="0" width="1" height="46.00" fill="#000" opacity="0.06"/>
<rect x="30.5" y="0" width="1" height="46.00" fill="#000" opacity="0.06"/>
<rect x="33.5" y="0" width="1" height="46.00" fill="#000" opacity="0.06"/>
<rect x="36.5" y="0" width="1" height="46.00" fill="#000" opacity="0.06"/>
<rect x="39.5" y="0" width="1" height="46.00" fill="#000" opacity="0.06"/>
<rect x="42.5" y="0" width="1" height="46.00" fill="#000" opacity="0.06"/>
<rect x="45.5" y="0" width="1" height="46.00" fill="#000" opacity="0.06"/>
<g filter="url(#blur1)">
<rect x="6.5" y="2.5" width="4" height="7.5" fill="#c8c8c8"/>
<rect x="7.8" y="3.5" width="1.4" height="5.5" fill="#8a8a8a"/>
<path d="M22.30,2.00 Q24.50,0.50 26.70,2.00 L28.70,9.00 Q31.10,18.80 29.90,30.00 L19.10,30.00 Q17.90,18.80 20.30,9.00 Z" fill="#5252a0"/><ellipse cx="24.50" cy="4.50" rx="2.2" ry="3.2" fill="#5a5aa0"/>
<path d="M38.60,2.00 Q40.80,0.50 43.00,2.00 L45.00,9.00 Q47.40,18.80 46.20,30.00 L35.40,30.00 Q34.20,18.80 36.60,9.00 Z" fill="#5252a0"/><ellipse cx="40.80" cy="4.50" rx="2.2" ry="3.2" fill="#5a5aa0"/>
<rect x="31.6" y="6" width="2" height="22" fill="#2a2a40" opacity="0.7"/>
<ellipse cx="24.5" cy="4.5" rx="2" ry="2.5" fill="#c85050"/>
<ellipse cx="24.5" cy="10.5" rx="3.2" ry="2" fill="#40b090"/>
<ellipse cx="40.8" cy="7" rx="2.6" ry="4.2" fill="#d8c030"/>
<ellipse cx="40.8" cy="13" rx="4" ry="2" fill="#4070d0"/>
<circle cx="21" cy="15" r="1.1" fill="#b8c0f0" opacity="0.9"/>
<circle cx="27" cy="18" r="1.1" fill="#b8c0f0" opacity="0.9"/>
<circle cx="29" cy="24" r="1.1" fill="#b8c0f0" opacity="0.9"/>
<circle cx="38" cy="17" r="1.1" fill="#b8c0f0" opacity="0.9"/>
<circle cx="44" cy="22" r="1.1" fill="#b8c0f0" opacity="0.9"/>
<circle cx="45" cy="26" r="1.1" fill="#b8c0f0" opacity="0.9"/>
<circle cx="36" cy="24" r="1.1" fill="#b8c0f0" opacity="0.9"/>
<path d="M17.5,31 Q20,27.5 25,28 Q30,27 31.5,30 L31,33 Q25,31 18,34 Z" fill="#d8d040"/>
<path d="M18,32 Q21,29.5 25,30 Q30,29 31.5,32 L32,37.5 Q28,41 23,40 Q17.5,38.5 18,32 Z" fill="#e23a22"/>
<circle cx="20" cy="31" r="1.5" fill="#60c080"/>
<path d="M33.5,30 Q40,27.5 47.6,29 L47.6,31.5 Q41,30 34,33 Z" fill="#e0c040"/>
<path d="M34.5,31 Q40.5,29 47.6,30.5 L47.6,36.5 Q41,39 35,36.5 Z" fill="#e82222"/>
<path d="M14,38 Q22,41 30,44 L36,46" stroke="#8070b0" stroke-width="3.5" fill="none"/>
<path d="M22,41.5 Q27,43.5 33,46" stroke="#50b8c8" stroke-width="1.5" fill="none"/>
<path d="M36,38 Q42,41 47.6,40" stroke="#9060a0" stroke-width="3" fill="none"/>
</g>
<g opacity="0.45">
<rect x="6.5" y="2.5" width="4" height="7.5" fill="#c8c8c8"/>
<rect x="7.8" y="3.5" width="1.4" height="5.5" fill="#8a8a8a"/>
<path d="M22.30,2.00 Q24.50,0.50 26.70,2.00 L28.70,9.00 Q31.10,18.80 29.90,30.00 L19.10,30.00 Q17.90,18.80 20.30,9.00 Z" fill="#5252a0"/><ellipse cx="24.50" cy="4.50" rx="2.2" ry="3.2" fill="#5a5aa0"/>
<path d="M38.60,2.00 Q40.80,0.50 43.00,2.00 L45.00,9.00 Q47.40,18.80 46.20,30.00 L35.40,30.00 Q34.20,18.80 36.60,9.00 Z" fill="#5252a0"/><ellipse cx="40.80" cy="4.50" rx="2.2" ry="3.2" fill="#5a5aa0"/>
<rect x="31.6" y="6" width="2" height="22" fill="#2a2a40" opacity="0.7"/>
<ellipse cx="24.5" cy="4.5" rx="2" ry="2.5" fill="#c85050"/>
<ellipse cx="24.5" cy="10.5" rx="3.2" ry="2" fill="#40b090"/>
<ellipse cx="40.8" cy="7" rx="2.6" ry="4.2" fill="#d8c030"/>
<ellipse cx="40.8" cy="13" rx="4" ry="2" fill="#4070d0"/>
<circle cx="21" cy="15" r="1.1" fill="#b8c0f0" opacity="0.9"/>
<circle cx="27" cy="18" r="1.1" fill="#b8c0f0" opacity="0.9"/>
<circle cx="29" cy="24" r="1.1" fill="#b8c0f0" opacity="0.9"/>
<circle cx="38" cy="17" r="1.1" fill="#b8c0f0" opacity="0.9"/>
<circle cx="44" cy="22" r="1.1" fill="#b8c0f0" opacity="0.9"/>
<circle cx="45" cy="26" r="1.1" fill="#b8c0f0" opacity="0.9"/>
<circle cx="36" cy="24" r="1.1" fill="#b8c0f0" opacity="0.9"/>
<path d="M17.5,31 Q20,27.5 25,28 Q30,27 31.5,30 L31,33 Q25,31 18,34 Z" fill="#d8d040"/>
<path d="M18,32 Q21,29.5 25,30 Q30,29 31.5,32 L32,37.5 Q28,41 23,40 Q17.5,38.5 18,32 Z" fill="#e23a22"/>
<circle cx="20" cy="31" r="1.5" fill="#60c080"/>
<path d="M33.5,30 Q40,27.5 47.6,29 L47.6,31.5 Q41,30 34,33 Z" fill="#e0c040"/>
<path d="M34.5,31 Q40.5,29 47.6,30.5 L47.6,36.5 Q41,39 35,36.5 Z" fill="#e82222"/>
<path d="M14,38 Q22,41 30,44 L36,46" stroke="#8070b0" stroke-width="3.5" fill="none"/>
<path d="M22,41.5 Q27,43.5 33,46" stroke="#50b8c8" stroke-width="1.5" fill="none"/>
<path d="M36,38 Q42,41 47.6,40" stroke="#9060a0" stroke-width="3" fill="none"/>
</g>
<rect x="0" y="0" width="47.60" height="46.00" filter="url(#noise)" opacity="0.22"/>
<rect x="0" y="0" width="47.60" height="46.00" filter="url(#noise2)" opacity="0.3"/>
<rect x="0.00" y="0.00" width="47.60" height="2.00" fill="#1c1c1c" />
</g></g>
<rect x="234.28" y="35.50" width="96.24" height="100.50" fill="#cccccc" />
<rect x="209" y="35.50" width="137" height="100.50" fill="none" stroke="#1a1a1a" stroke-width="1.5"/>
<line x1="205.90" y1="136.00" x2="209.00" y2="136.00" stroke="#1a1a1a" stroke-width="1.3" />
<text x="202.50" y="138.70" font-size="7.6" text-anchor="end" fill="#1a1a1a" >0</text>
<line x1="205.90" y1="110.88" x2="209.00" y2="110.88" stroke="#1a1a1a" stroke-width="1.3" />
<text x="202.50" y="113.58" font-size="7.6" text-anchor="end" fill="#1a1a1a" >25</text>
<line x1="205.90" y1="85.75" x2="209.00" y2="85.75" stroke="#1a1a1a" stroke-width="1.3" />
<text x="202.50" y="88.45" font-size="7.6" text-anchor="end" fill="#1a1a1a" >50</text>
<line x1="205.90" y1="60.63" x2="209.00" y2="60.63" stroke="#1a1a1a" stroke-width="1.3" />
<text x="202.50" y="63.33" font-size="7.6" text-anchor="end" fill="#1a1a1a" >75</text>
<line x1="205.90" y1="35.50" x2="209.00" y2="35.50" stroke="#1a1a1a" stroke-width="1.3" />
<text x="202.50" y="38.20" font-size="7.6" text-anchor="end" fill="#1a1a1a" >100</text>
<line x1="209.00" y1="136.00" x2="209.00" y2="138.80" stroke="#1a1a1a" stroke-width="1.1" />
<line x1="222.07" y1="136.00" x2="222.07" y2="138.80" stroke="#1a1a1a" stroke-width="1.1" />
<line x1="235.13" y1="136.00" x2="235.13" y2="138.80" stroke="#1a1a1a" stroke-width="1.1" />
<line x1="248.20" y1="136.00" x2="248.20" y2="138.80" stroke="#1a1a1a" stroke-width="1.1" />
<line x1="261.27" y1="136.00" x2="261.27" y2="138.80" stroke="#1a1a1a" stroke-width="1.1" />
<line x1="274.33" y1="136.00" x2="274.33" y2="138.80" stroke="#1a1a1a" stroke-width="1.1" />
<line x1="287.40" y1="136.00" x2="287.40" y2="138.80" stroke="#1a1a1a" stroke-width="1.1" />
<line x1="300.47" y1="136.00" x2="300.47" y2="138.80" stroke="#1a1a1a" stroke-width="1.1" />
<line x1="313.53" y1="136.00" x2="313.53" y2="138.80" stroke="#1a1a1a" stroke-width="1.1" />
<line x1="326.60" y1="136.00" x2="326.60" y2="138.80" stroke="#1a1a1a" stroke-width="1.1" />
<line x1="339.67" y1="136.00" x2="339.67" y2="138.80" stroke="#1a1a1a" stroke-width="1.1" />
<text x="209.00" y="148.80" font-size="7.6" text-anchor="middle" fill="#1a1a1a" >0</text>
<text x="248.20" y="148.80" font-size="7.6" text-anchor="middle" fill="#1a1a1a" >10</text>
<text x="287.40" y="148.80" font-size="7.6" text-anchor="middle" fill="#1a1a1a" >20</text>
<text x="326.60" y="148.80" font-size="7.6" text-anchor="middle" fill="#1a1a1a" >30</text>
<text x="238.40" y="163.00" font-size="10.2" text-anchor="start" fill="#1a1a1a" textLength="78.3" lengthAdjust="spacingAndGlyphs" >Days post transplant</text>
<text x="0" y="0" transform="translate(184.20 83.60) rotate(-90) scale(0.9 1)" font-size="9.8" text-anchor="middle" fill="#1a1a1a" >% survival</text>
<polyline points="247.90,35.50 271.50,35.50 271.50,40.50 279.40,40.50 279.40,50.80 290.80,50.80 290.80,65.70 294.60,65.70 294.60,70.80 298.50,70.80 298.50,80.80 302.70,80.80 302.70,105.80 306.90,105.80 306.90,115.80 314.60,115.80 314.60,120.80 318.20,120.80 318.20,126.20 330.50,126.20 330.50,131.20 342.30,131.20 342.30,136.00" fill="none" stroke="#900c2c" stroke-width="1.9" />
<polyline points="209.00,35.50 247.90,35.50 247.90,70.70 252.20,70.70 252.20,126.00 256.20,126.00 256.20,136.00" fill="none" stroke="#2a3658" stroke-width="1.9" />
<line x1="252.50" y1="95.90" x2="302.70" y2="95.90" stroke="#2a2a2a" stroke-width="1.4" />
<circle cx="270.90" cy="90.30" r="1.3" fill="#222" />
<circle cx="275.40" cy="90.30" r="1.3" fill="#222" />
<circle cx="279.90" cy="90.30" r="1.3" fill="#222" />
<circle cx="284.40" cy="90.30" r="1.3" fill="#222" />
<line x1="300.00" y1="42.80" x2="307.70" y2="42.80" stroke="#2a3658" stroke-width="1.8" />
<line x1="300.00" y1="52.30" x2="307.70" y2="52.30" stroke="#900c2c" stroke-width="1.8" />
<circle cx="303.80" cy="42.80" r="1.5" fill="#2a3658" />
<circle cx="303.80" cy="52.30" r="1.5" fill="#900c2c" />
<text x="310.80" y="45.40" font-size="7.5" text-anchor="start" fill="#1a1a1a" textLength="22.6" lengthAdjust="spacingAndGlyphs" >vehicle</text>
<text x="310.80" y="55.00" font-size="7.5" text-anchor="start" fill="#1a1a1a" textLength="29.7" lengthAdjust="spacingAndGlyphs" >CX-5461</text>
<rect x="407.4" y="37.30" width="66.10" height="98.20" fill="none" stroke="#1a1a1a" stroke-width="1.5"/>
<line x1="403.80" y1="135.50" x2="407.40" y2="135.50" stroke="#1a1a1a" stroke-width="1.3" />
<text x="401.20" y="137.90" font-size="7.6" text-anchor="end" fill="#1a1a1a" >0.0</text>
<line x1="403.80" y1="115.86" x2="407.40" y2="115.86" stroke="#1a1a1a" stroke-width="1.3" />
<text x="401.20" y="118.26" font-size="7.6" text-anchor="end" fill="#1a1a1a" >0.2</text>
<line x1="403.80" y1="96.22" x2="407.40" y2="96.22" stroke="#1a1a1a" stroke-width="1.3" />
<text x="401.20" y="98.62" font-size="7.6" text-anchor="end" fill="#1a1a1a" >0.4</text>
<line x1="403.80" y1="76.58" x2="407.40" y2="76.58" stroke="#1a1a1a" stroke-width="1.3" />
<text x="401.20" y="78.98" font-size="7.6" text-anchor="end" fill="#1a1a1a" >0.6</text>
<line x1="403.80" y1="56.94" x2="407.40" y2="56.94" stroke="#1a1a1a" stroke-width="1.3" />
<text x="401.20" y="59.34" font-size="7.6" text-anchor="end" fill="#1a1a1a" >0.8</text>
<line x1="403.80" y1="37.30" x2="407.40" y2="37.30" stroke="#1a1a1a" stroke-width="1.3" />
<text x="401.20" y="39.70" font-size="7.6" text-anchor="end" fill="#1a1a1a" >1.0</text>
<line x1="424.30" y1="135.40" x2="424.30" y2="138.80" stroke="#1a1a1a" stroke-width="1.1" />
<line x1="457.20" y1="135.40" x2="457.20" y2="138.80" stroke="#1a1a1a" stroke-width="1.1" />
<text x="410.00" y="149.30" font-size="8.1" text-anchor="start" fill="#1a1a1a" textLength="61.5" lengthAdjust="spacingAndGlyphs" >when euthanized</text>
<text x="0" y="0" transform="translate(384.20 87.40) rotate(-90) scale(0.905 1)" font-size="9.0" text-anchor="middle" fill="#1a1a1a" >Spleen weight (g)</text>
<line x1="424.30" y1="53.40" x2="457.20" y2="53.40" stroke="#222" stroke-width="1.2" />
<circle cx="440.50" cy="47.70" r="1.2" fill="#222" />
<circle cx="424.20" cy="75.70" r="1.4" fill="#22406c" />
<circle cx="420.40" cy="88.50" r="1.4" fill="#22406c" />
<circle cx="424.20" cy="86.40" r="1.4" fill="#22406c" />
<circle cx="428.40" cy="89.20" r="1.4" fill="#22406c" />
<circle cx="424.20" cy="91.60" r="1.4" fill="#22406c" />
<circle cx="420.10" cy="96.00" r="1.4" fill="#22406c" />
<circle cx="428.40" cy="94.90" r="1.4" fill="#22406c" />
<circle cx="424.20" cy="97.20" r="1.4" fill="#22406c" />
<circle cx="420.10" cy="103.00" r="1.4" fill="#22406c" />
<circle cx="424.20" cy="101.70" r="1.4" fill="#22406c" />
<circle cx="428.40" cy="104.00" r="1.4" fill="#22406c" />
<circle cx="422.10" cy="106.90" r="1.4" fill="#22406c" />
<circle cx="423.50" cy="106.20" r="1.4" fill="#22406c" />
<circle cx="426.30" cy="111.40" r="1.4" fill="#22406c" />
<circle cx="422.10" cy="116.20" r="1.4" fill="#22406c" />
<circle cx="426.30" cy="116.20" r="1.4" fill="#22406c" />
<line x1="413.30" y1="98.90" x2="435.30" y2="98.90" stroke="#1a1a1a" stroke-width="1.4" />
<line x1="419.20" y1="96.00" x2="429.40" y2="96.00" stroke="#1a1a1a" stroke-width="1.1" />
<line x1="419.20" y1="101.70" x2="429.40" y2="101.70" stroke="#1a1a1a" stroke-width="1.1" />
<line x1="424.30" y1="96.00" x2="424.30" y2="101.70" stroke="#1a1a1a" stroke-width="1.1" />
<rect x="453.65" y="104.75" width="2.50" height="2.50" fill="#94163a" />
<rect x="458.25" y="105.85" width="2.50" height="2.50" fill="#94163a" />
<rect x="449.35" y="114.75" width="2.50" height="2.50" fill="#94163a" />
<rect x="452.65" y="116.15" width="2.50" height="2.50" fill="#94163a" />
<rect x="455.85" y="116.65" width="2.50" height="2.50" fill="#94163a" />
<rect x="459.15" y="116.15" width="2.50" height="2.50" fill="#94163a" />
<rect x="462.35" y="114.75" width="2.50" height="2.50" fill="#94163a" />
<rect x="447.55" y="120.75" width="2.50" height="2.50" fill="#94163a" />
<rect x="451.95" y="122.35" width="2.50" height="2.50" fill="#94163a" />
<rect x="455.85" y="122.85" width="2.50" height="2.50" fill="#94163a" />
<rect x="459.75" y="122.05" width="2.50" height="2.50" fill="#94163a" />
<rect x="463.85" y="119.45" width="2.50" height="2.50" fill="#94163a" />
<rect x="446.55" y="124.25" width="2.50" height="2.50" fill="#94163a" />
<rect x="450.15" y="126.25" width="2.50" height="2.50" fill="#94163a" />
<rect x="453.65" y="126.75" width="2.50" height="2.50" fill="#94163a" />
<rect x="457.15" y="126.75" width="2.50" height="2.50" fill="#94163a" />
<rect x="461.45" y="125.95" width="2.50" height="2.50" fill="#94163a" />
<rect x="465.35" y="124.25" width="2.50" height="2.50" fill="#94163a" />
<rect x="455.95" y="56.75" width="2.50" height="2.50" fill="#94163a" />
<rect x="455.95" y="71.55" width="2.50" height="2.50" fill="#94163a" />
<rect x="455.95" y="86.45" width="2.50" height="2.50" fill="#94163a" />
<line x1="445.80" y1="113.80" x2="467.90" y2="113.80" stroke="#1a1a1a" stroke-width="1.4" />
<line x1="451.40" y1="109.50" x2="462.90" y2="109.50" stroke="#1a1a1a" stroke-width="1.1" />
<line x1="451.40" y1="118.10" x2="462.90" y2="118.10" stroke="#1a1a1a" stroke-width="1.1" />
<line x1="457.10" y1="109.50" x2="457.10" y2="118.10" stroke="#1a1a1a" stroke-width="1.1" />
<circle cx="478.50" cy="42.30" r="1.35" fill="#1c2c4c" />
<rect x="477.20" y="50.00" width="2.60" height="2.60" fill="#701230" />
<text x="483.00" y="44.90" font-size="7.4" text-anchor="start" fill="#1a1a1a" textLength="23.0" lengthAdjust="spacingAndGlyphs" >vehicle</text>
<text x="483.00" y="53.90" font-size="7.4" text-anchor="start" fill="#1a1a1a" textLength="29.3" lengthAdjust="spacingAndGlyphs" >CX-5461</text>
<line x1="62.00" y1="220.00" x2="62.00" y2="375.50" stroke="#1a1a1a" stroke-width="1.4" />
<line x1="57.50" y1="375.50" x2="309.00" y2="375.50" stroke="#1a1a1a" stroke-width="1.5" />
<line x1="57.90" y1="222.50" x2="62.00" y2="222.50" stroke="#1a1a1a" stroke-width="1.3" />
<text x="55.20" y="225.30" font-size="7.9" text-anchor="end" fill="#1a1a1a" >10000</text>
<line x1="57.90" y1="273.50" x2="62.00" y2="273.50" stroke="#1a1a1a" stroke-width="1.3" />
<text x="55.20" y="276.30" font-size="7.9" text-anchor="end" fill="#1a1a1a" >1000</text>
<line x1="57.90" y1="324.50" x2="62.00" y2="324.50" stroke="#1a1a1a" stroke-width="1.3" />
<text x="55.20" y="327.30" font-size="7.9" text-anchor="end" fill="#1a1a1a" >100</text>
<line x1="57.90" y1="375.50" x2="62.00" y2="375.50" stroke="#1a1a1a" stroke-width="1.3" />
<text x="55.20" y="378.30" font-size="7.9" text-anchor="end" fill="#1a1a1a" >10</text>
<text x="0" y="0" transform="translate(27.10 297.60) rotate(-90) scale(0.98 1)" font-size="9.0" text-anchor="middle" fill="#1a1a1a" >Cell viability IC<tspan font-size="7.0" dy="2.6">50</tspan><tspan dy="-2.6"> (nM)</tspan></text>
<line x1="68.25" y1="336.80" x2="68.25" y2="347.20" stroke="#9588a6" stroke-width="1.2" />
<line x1="65.65" y1="336.80" x2="70.85" y2="336.80" stroke="#9588a6" stroke-width="1.2" />
<rect x="63.80" y="347.20" width="8.90" height="28.30" fill="#b0a0c4" />
<line x1="68.25" y1="375.50" x2="68.25" y2="378.60" stroke="#1a1a1a" stroke-width="1.1" />
<text x="0" y="0" transform="translate(71.45 386.30) rotate(-45)" font-size="8.2" text-anchor="end" fill="#1a1a1a" >KASUMI-3</text>
<line x1="80.00" y1="330.40" x2="80.00" y2="342.20" stroke="#857699" stroke-width="1.2" />
<line x1="77.40" y1="330.40" x2="82.59" y2="330.40" stroke="#857699" stroke-width="1.2" />
<rect x="75.55" y="342.20" width="8.90" height="33.30" fill="#9d8bb5" />
<line x1="80.00" y1="375.50" x2="80.00" y2="378.60" stroke="#1a1a1a" stroke-width="1.1" />
<text x="0" y="0" transform="translate(83.20 386.30) rotate(-45)" font-size="8.2" text-anchor="end" fill="#1a1a1a" >NOMO-1</text>
<line x1="91.74" y1="338.00" x2="91.74" y2="341.90" stroke="#7f6c95" stroke-width="1.2" />
<line x1="89.14" y1="338.00" x2="94.34" y2="338.00" stroke="#7f6c95" stroke-width="1.2" />
<rect x="87.29" y="341.90" width="8.90" height="33.60" fill="#9680b0" />
<line x1="91.74" y1="375.50" x2="91.74" y2="378.60" stroke="#1a1a1a" stroke-width="1.1" />
<text x="0" y="0" transform="translate(94.94 386.30) rotate(-45)" font-size="8.2" text-anchor="end" fill="#1a1a1a" >SKM-1</text>
<line x1="103.48" y1="330.80" x2="103.48" y2="335.70" stroke="#6a4f82" stroke-width="1.2" />
<line x1="100.89" y1="330.80" x2="106.08" y2="330.80" stroke="#6a4f82" stroke-width="1.2" />
<rect x="99.03" y="335.70" width="8.90" height="39.80" fill="#7d5e9a" />
<line x1="103.48" y1="375.50" x2="103.48" y2="378.60" stroke="#1a1a1a" stroke-width="1.1" />
<text x="0" y="0" transform="translate(106.69 386.30) rotate(-45)" font-size="8.2" text-anchor="end" fill="#1a1a1a" >KASUMI-1</text>
<line x1="115.23" y1="329.70" x2="115.23" y2="335.50" stroke="#5f4178" stroke-width="1.2" />
<line x1="112.63" y1="329.70" x2="117.83" y2="329.70" stroke="#5f4178" stroke-width="1.2" />
<rect x="110.78" y="335.50" width="8.90" height="40.00" fill="#704d8e" />
<line x1="115.23" y1="375.50" x2="115.23" y2="378.60" stroke="#1a1a1a" stroke-width="1.1" />
<text x="0" y="0" transform="translate(118.43 386.30) rotate(-45)" font-size="8.2" text-anchor="end" fill="#1a1a1a" >NB-4</text>
<line x1="126.97" y1="329.20" x2="126.97" y2="333.80" stroke="#51336e" stroke-width="1.2" />
<line x1="124.38" y1="329.20" x2="129.57" y2="329.20" stroke="#51336e" stroke-width="1.2" />
<rect x="122.52" y="333.80" width="8.90" height="41.70" fill="#603c82" />
<line x1="126.97" y1="375.50" x2="126.97" y2="378.60" stroke="#1a1a1a" stroke-width="1.1" />
<text x="0" y="0" transform="translate(130.17 386.30) rotate(-45)" font-size="8.2" text-anchor="end" fill="#1a1a1a" >OCI-AML2</text>
<line x1="138.72" y1="323.50" x2="138.72" y2="330.60" stroke="#421c5f" stroke-width="1.2" />
<line x1="136.12" y1="323.50" x2="141.32" y2="323.50" stroke="#421c5f" stroke-width="1.2" />
<rect x="134.27" y="330.60" width="8.90" height="44.90" fill="#4e2170" />
<line x1="138.72" y1="375.50" x2="138.72" y2="378.60" stroke="#1a1a1a" stroke-width="1.1" />
<text x="0" y="0" transform="translate(141.92 386.30) rotate(-45)" font-size="8.2" text-anchor="end" fill="#1a1a1a" >ML-2</text>
<line x1="150.46" y1="304.00" x2="150.46" y2="310.40" stroke="#b7c1a6" stroke-width="1.2" />
<line x1="147.86" y1="304.00" x2="153.06" y2="304.00" stroke="#b7c1a6" stroke-width="1.2" />
<rect x="146.01" y="310.40" width="8.90" height="65.10" fill="#d8e4c4" />
<line x1="150.46" y1="375.50" x2="150.46" y2="378.60" stroke="#1a1a1a" stroke-width="1.1" />
<text x="0" y="0" transform="translate(153.66 386.30) rotate(-45)" font-size="8.2" text-anchor="end" fill="#1a1a1a" >ME-1</text>
<line x1="162.21" y1="288.20" x2="162.21" y2="308.30" stroke="#aabb95" stroke-width="1.2" />
<line x1="159.61" y1="288.20" x2="164.81" y2="288.20" stroke="#aabb95" stroke-width="1.2" />
<rect x="157.76" y="308.30" width="8.90" height="67.20" fill="#c9dcb0" />
<line x1="162.21" y1="375.50" x2="162.21" y2="378.60" stroke="#1a1a1a" stroke-width="1.1" />
<text x="0" y="0" transform="translate(165.41 386.30) rotate(-45)" font-size="8.2" text-anchor="end" fill="#1a1a1a" >CMK</text>
<line x1="173.95" y1="291.90" x2="173.95" y2="307.10" stroke="#9fb588" stroke-width="1.2" />
<line x1="171.35" y1="291.90" x2="176.55" y2="291.90" stroke="#9fb588" stroke-width="1.2" />
<rect x="169.50" y="307.10" width="8.90" height="68.40" fill="#bcd6a0" />
<line x1="173.95" y1="375.50" x2="173.95" y2="378.60" stroke="#1a1a1a" stroke-width="1.1" />
<text x="0" y="0" transform="translate(177.15 386.30) rotate(-45)" font-size="8.2" text-anchor="end" fill="#1a1a1a" >GDM-1</text>
<line x1="185.70" y1="294.40" x2="185.70" y2="304.40" stroke="#8ead73" stroke-width="1.2" />
<line x1="183.10" y1="294.40" x2="188.30" y2="294.40" stroke="#8ead73" stroke-width="1.2" />
<rect x="181.25" y="304.40" width="8.90" height="71.10" fill="#a8cc88" />
<line x1="185.70" y1="375.50" x2="185.70" y2="378.60" stroke="#1a1a1a" stroke-width="1.1" />
<text x="0" y="0" transform="translate(188.90 386.30) rotate(-45)" font-size="8.2" text-anchor="end" fill="#1a1a1a" >MOLM-13</text>
<line x1="197.44" y1="288.60" x2="197.44" y2="301.00" stroke="#81a667" stroke-width="1.2" />
<line x1="194.84" y1="288.60" x2="200.04" y2="288.60" stroke="#81a667" stroke-width="1.2" />
<rect x="193.00" y="301.00" width="8.90" height="74.50" fill="#98c47a" />
<line x1="197.44" y1="375.50" x2="197.44" y2="378.60" stroke="#1a1a1a" stroke-width="1.1" />
<text x="0" y="0" transform="translate(200.64 386.30) rotate(-45)" font-size="8.2" text-anchor="end" fill="#1a1a1a" >THP-1</text>
<line x1="209.19" y1="286.30" x2="209.19" y2="297.90" stroke="#739f55" stroke-width="1.2" />
<line x1="206.59" y1="286.30" x2="211.79" y2="286.30" stroke="#739f55" stroke-width="1.2" />
<rect x="204.74" y="297.90" width="8.90" height="77.60" fill="#88bc64" />
<line x1="209.19" y1="375.50" x2="209.19" y2="378.60" stroke="#1a1a1a" stroke-width="1.1" />
<text x="0" y="0" transform="translate(212.39 386.30) rotate(-45)" font-size="8.2" text-anchor="end" fill="#1a1a1a" >MV4-11</text>
<line x1="220.94" y1="280.90" x2="220.94" y2="293.00" stroke="#629544" stroke-width="1.2" />
<line x1="218.34" y1="280.90" x2="223.53" y2="280.90" stroke="#629544" stroke-width="1.2" />
<rect x="216.49" y="293.00" width="8.90" height="82.50" fill="#74b050" />
<line x1="220.94" y1="375.50" x2="220.94" y2="378.60" stroke="#1a1a1a" stroke-width="1.1" />
<text x="0" y="0" transform="translate(224.13 386.30) rotate(-45)" font-size="8.2" text-anchor="end" fill="#1a1a1a" >FKH-1</text>
<line x1="232.68" y1="281.30" x2="232.68" y2="283.80" stroke="#4f8b31" stroke-width="1.2" />
<line x1="230.08" y1="281.30" x2="235.28" y2="281.30" stroke="#4f8b31" stroke-width="1.2" />
<rect x="228.23" y="283.80" width="8.90" height="91.70" fill="#5ea43a" />
<line x1="232.68" y1="375.50" x2="232.68" y2="378.60" stroke="#1a1a1a" stroke-width="1.1" />
<text x="0" y="0" transform="translate(235.88 386.30) rotate(-45)" font-size="8.2" text-anchor="end" fill="#1a1a1a" >SH-2</text>
<line x1="244.42" y1="271.90" x2="244.42" y2="276.20" stroke="#b07a6c" stroke-width="1.2" />
<line x1="241.82" y1="271.90" x2="247.02" y2="271.90" stroke="#b07a6c" stroke-width="1.2" />
<rect x="239.97" y="276.20" width="8.90" height="99.30" fill="#d09080" />
<line x1="244.42" y1="375.50" x2="244.42" y2="378.60" stroke="#1a1a1a" stroke-width="1.1" />
<text x="0" y="0" transform="translate(247.62 386.30) rotate(-45)" font-size="8.2" text-anchor="end" fill="#1a1a1a" >PL-21</text>
<line x1="256.17" y1="272.60" x2="256.17" y2="275.20" stroke="#ac675b" stroke-width="1.2" />
<line x1="253.57" y1="272.60" x2="258.77" y2="272.60" stroke="#ac675b" stroke-width="1.2" />
<rect x="251.72" y="275.20" width="8.90" height="100.30" fill="#cb7a6c" />
<line x1="256.17" y1="375.50" x2="256.17" y2="378.60" stroke="#1a1a1a" stroke-width="1.1" />
<text x="0" y="0" transform="translate(259.37 386.30) rotate(-45)" font-size="8.2" text-anchor="end" fill="#1a1a1a" >SHI-1</text>
<line x1="267.91" y1="268.80" x2="267.91" y2="271.40" stroke="#a6564e" stroke-width="1.2" />
<line x1="265.31" y1="268.80" x2="270.51" y2="268.80" stroke="#a6564e" stroke-width="1.2" />
<rect x="263.46" y="271.40" width="8.90" height="104.10" fill="#c4665c" />
<line x1="267.91" y1="375.50" x2="267.91" y2="378.60" stroke="#1a1a1a" stroke-width="1.1" />
<text x="0" y="0" transform="translate(271.11 386.30) rotate(-45)" font-size="8.2" text-anchor="end" fill="#1a1a1a" >OCI-AML3</text>
<line x1="279.66" y1="242.10" x2="279.66" y2="256.20" stroke="#9f403d" stroke-width="1.2" />
<line x1="277.06" y1="242.10" x2="282.26" y2="242.10" stroke="#9f403d" stroke-width="1.2" />
<rect x="275.21" y="256.20" width="8.90" height="119.30" fill="#bc4c48" />
<line x1="279.66" y1="375.50" x2="279.66" y2="378.60" stroke="#1a1a1a" stroke-width="1.1" />
<text x="0" y="0" transform="translate(282.86 386.30) rotate(-45)" font-size="8.2" text-anchor="end" fill="#1a1a1a" >KG-1</text>
<line x1="291.40" y1="232.00" x2="291.40" y2="242.30" stroke="#952f33" stroke-width="1.2" />
<line x1="288.80" y1="232.00" x2="294.00" y2="232.00" stroke="#952f33" stroke-width="1.2" />
<rect x="286.95" y="242.30" width="8.90" height="133.20" fill="#b0383c" />
<line x1="291.40" y1="375.50" x2="291.40" y2="378.60" stroke="#1a1a1a" stroke-width="1.1" />
<text x="0" y="0" transform="translate(294.60 386.30) rotate(-45)" font-size="8.2" text-anchor="end" fill="#1a1a1a" >OCI-M1</text>
<rect x="298.70" y="222.60" width="8.90" height="152.90" fill="#a8082c" />
<line x1="303.15" y1="375.50" x2="303.15" y2="378.60" stroke="#1a1a1a" stroke-width="1.1" />
<text x="0" y="0" transform="translate(306.35 386.30) rotate(-45)" font-size="8.2" text-anchor="end" fill="#1a1a1a" >OCI-M2</text>
<rect x="407.6" y="224.15" width="79.10" height="100.35" fill="none" stroke="#1a1a1a" stroke-width="1.5"/>
<line x1="404.10" y1="224.15" x2="407.60" y2="224.15" stroke="#1a1a1a" stroke-width="1.3" />
<text x="400.80" y="226.95" font-size="7.9" text-anchor="end" fill="#1a1a1a" >10000</text>
<line x1="404.10" y1="257.60" x2="407.60" y2="257.60" stroke="#1a1a1a" stroke-width="1.3" />
<text x="400.80" y="260.40" font-size="7.9" text-anchor="end" fill="#1a1a1a" >1000</text>
<line x1="404.10" y1="291.05" x2="407.60" y2="291.05" stroke="#1a1a1a" stroke-width="1.3" />
<text x="400.80" y="293.85" font-size="7.9" text-anchor="end" fill="#1a1a1a" >100</text>
<line x1="404.10" y1="324.50" x2="407.60" y2="324.50" stroke="#1a1a1a" stroke-width="1.3" />
<text x="400.80" y="327.30" font-size="7.9" text-anchor="end" fill="#1a1a1a" >10</text>
<text x="0" y="0" transform="translate(374.20 273.10) rotate(-90) scale(0.98 1)" font-size="9.0" text-anchor="middle" fill="#1a1a1a" >Cell viability IC<tspan font-size="7.0" dy="2.6">50</tspan><tspan dy="-2.6"> (nM)</tspan></text>
<line x1="420.90" y1="324.50" x2="420.90" y2="327.50" stroke="#1a1a1a" stroke-width="1.1" />
<line x1="447.40" y1="324.50" x2="447.40" y2="327.50" stroke="#1a1a1a" stroke-width="1.1" />
<line x1="473.90" y1="324.50" x2="473.90" y2="327.50" stroke="#1a1a1a" stroke-width="1.1" />
<text x="0" y="0" transform="translate(423.70 335.00) rotate(-45)" font-size="8.0" text-anchor="end" fill="#1a1a1a" >p53 WT</text>
<text x="0" y="0" transform="translate(450.20 335.00) rotate(-45)" font-size="8.0" text-anchor="end" fill="#1a1a1a" >p53 mut</text>
<text x="0" y="0" transform="translate(476.70 335.00) rotate(-45)" font-size="8.0" text-anchor="end" fill="#1a1a1a" >p53 null</text>
<circle cx="418.80" cy="256.20" r="1.5" fill="#bc8484" />
<circle cx="422.80" cy="258.30" r="1.5" fill="#bc8484" />
<circle cx="418.80" cy="273.50" r="1.5" fill="#bc8484" />
<circle cx="420.90" cy="277.70" r="1.5" fill="#bc8484" />
<circle cx="423.20" cy="270.40" r="1.5" fill="#bc8484" />
<circle cx="417.10" cy="295.00" r="1.5" fill="#bc8484" />
<circle cx="420.90" cy="298.10" r="1.5" fill="#bc8484" />
<circle cx="424.90" cy="297.20" r="1.5" fill="#bc8484" />
<line x1="412.30" y1="270.70" x2="429.70" y2="270.70" stroke="#111" stroke-width="1.7" />
<circle cx="447.40" cy="239.70" r="1.5" fill="#aca0a2" />
<circle cx="447.40" cy="264.30" r="1.5" fill="#cca2aa" />
<circle cx="443.40" cy="302.40" r="1.5" fill="#cca2aa" />
<circle cx="447.40" cy="306.20" r="1.5" fill="#cca2aa" />
<circle cx="451.40" cy="302.80" r="1.5" fill="#cca2aa" />
<line x1="438.20" y1="260.30" x2="456.20" y2="260.30" stroke="#111" stroke-width="1.7" />
<polygon points="472.00,247.90 475.80,247.90 473.90,244.60" fill="#983040"/>
<polygon points="472.00,261.10 475.80,261.10 473.90,257.80" fill="#983040"/>
<polygon points="472.00,277.30 475.80,277.30 473.90,274.00" fill="#983040"/>
<line x1="465.20" y1="256.00" x2="482.90" y2="256.00" stroke="#111" stroke-width="1.7" />
<line x1="51.50" y1="464.80" x2="51.50" y2="648.50" stroke="#1a1a1a" stroke-width="1.4" />
<line x1="48.10" y1="648.50" x2="416.70" y2="648.50" stroke="#1a1a1a" stroke-width="1.5" />
<line x1="47.90" y1="648.50" x2="51.50" y2="648.50" stroke="#1a1a1a" stroke-width="1.3" />
<text x="45.10" y="651.30" font-size="7.9" text-anchor="end" fill="#1a1a1a" >0</text>
<line x1="47.90" y1="604.75" x2="51.50" y2="604.75" stroke="#1a1a1a" stroke-width="1.3" />
<text x="45.10" y="607.55" font-size="7.9" text-anchor="end" fill="#1a1a1a" >25</text>
<line x1="47.90" y1="561.00" x2="51.50" y2="561.00" stroke="#1a1a1a" stroke-width="1.3" />
<text x="45.10" y="563.80" font-size="7.9" text-anchor="end" fill="#1a1a1a" >50</text>
<line x1="47.90" y1="517.25" x2="51.50" y2="517.25" stroke="#1a1a1a" stroke-width="1.3" />
<text x="45.10" y="520.05" font-size="7.9" text-anchor="end" fill="#1a1a1a" >75</text>
<line x1="47.90" y1="473.50" x2="51.50" y2="473.50" stroke="#1a1a1a" stroke-width="1.3" />
<text x="45.10" y="476.30" font-size="7.9" text-anchor="end" fill="#1a1a1a" >100</text>
<text x="0" y="0" transform="translate(26.20 556.50) rotate(-90)" font-size="8.7" text-anchor="middle" fill="#1a1a1a" textLength="54.2" lengthAdjust="spacingAndGlyphs" >% cell viability</text>
<line x1="57.20" y1="495.10" x2="57.20" y2="496.90" stroke="#1c1c1c" stroke-width="1.25" />
<line x1="55.30" y1="495.10" x2="59.10" y2="495.10" stroke="#1c1c1c" stroke-width="1.4" />
<rect x="54.50" y="496.90" width="5.40" height="151.60" fill="#c4c2cc" />
<line x1="57.20" y1="648.50" x2="57.20" y2="651.40" stroke="#1a1a1a" stroke-width="1.1" />
<line x1="65.74" y1="500.50" x2="65.74" y2="502.30" stroke="#1c1c1c" stroke-width="1.25" />
<line x1="63.84" y1="500.50" x2="67.64" y2="500.50" stroke="#1c1c1c" stroke-width="1.4" />
<rect x="63.04" y="502.30" width="5.40" height="146.20" fill="#b0ba88" />
<line x1="65.74" y1="648.50" x2="65.74" y2="651.40" stroke="#1a1a1a" stroke-width="1.1" />
<line x1="74.28" y1="545.50" x2="74.28" y2="561.90" stroke="#1c1c1c" stroke-width="1.25" />
<line x1="72.38" y1="545.50" x2="76.18" y2="545.50" stroke="#1c1c1c" stroke-width="1.4" />
<rect x="71.58" y="561.90" width="5.40" height="86.60" fill="#2e6448" />
<line x1="74.28" y1="648.50" x2="74.28" y2="651.40" stroke="#1a1a1a" stroke-width="1.1" />
<line x1="82.82" y1="581.10" x2="82.82" y2="598.60" stroke="#1c1c1c" stroke-width="1.25" />
<line x1="80.92" y1="581.10" x2="84.72" y2="581.10" stroke="#1c1c1c" stroke-width="1.4" />
<rect x="80.12" y="598.60" width="5.40" height="49.90" fill="#6aaa3c" />
<line x1="82.82" y1="648.50" x2="82.82" y2="651.40" stroke="#1a1a1a" stroke-width="1.1" />
<line x1="91.36" y1="495.50" x2="91.36" y2="498.70" stroke="#1c1c1c" stroke-width="1.25" />
<line x1="89.46" y1="495.50" x2="93.26" y2="495.50" stroke="#1c1c1c" stroke-width="1.4" />
<rect x="88.66" y="498.70" width="5.40" height="149.80" fill="#4a5060" />
<line x1="91.36" y1="648.50" x2="91.36" y2="651.40" stroke="#1a1a1a" stroke-width="1.1" />
<line x1="99.90" y1="560.50" x2="99.90" y2="577.00" stroke="#1c1c1c" stroke-width="1.25" />
<line x1="98.00" y1="560.50" x2="101.80" y2="560.50" stroke="#1c1c1c" stroke-width="1.4" />
<rect x="97.20" y="577.00" width="5.40" height="71.50" fill="#c8007a" />
<line x1="99.90" y1="648.50" x2="99.90" y2="651.40" stroke="#1a1a1a" stroke-width="1.1" />
<line x1="56.90" y1="655.00" x2="100.20" y2="655.00" stroke="#222" stroke-width="1.3" />
<text x="78.55" y="665.00" font-size="8.0" text-anchor="middle" fill="#1a1a1a" >KASUMI-1</text>
<line x1="108.57" y1="478.90" x2="108.57" y2="480.10" stroke="#1c1c1c" stroke-width="1.25" />
<line x1="106.67" y1="478.90" x2="110.47" y2="478.90" stroke="#1c1c1c" stroke-width="1.4" />
<rect x="105.87" y="480.10" width="5.40" height="168.40" fill="#c4c2cc" />
<line x1="108.57" y1="648.50" x2="108.57" y2="651.40" stroke="#1a1a1a" stroke-width="1.1" />
<line x1="117.11" y1="484.90" x2="117.11" y2="487.30" stroke="#1c1c1c" stroke-width="1.25" />
<line x1="115.21" y1="484.90" x2="119.01" y2="484.90" stroke="#1c1c1c" stroke-width="1.4" />
<rect x="114.41" y="487.30" width="5.40" height="161.20" fill="#b0ba88" />
<line x1="117.11" y1="648.50" x2="117.11" y2="651.40" stroke="#1a1a1a" stroke-width="1.1" />
<line x1="125.65" y1="510.40" x2="125.65" y2="528.20" stroke="#1c1c1c" stroke-width="1.25" />
<line x1="123.75" y1="510.40" x2="127.55" y2="510.40" stroke="#1c1c1c" stroke-width="1.4" />
<rect x="122.95" y="528.20" width="5.40" height="120.30" fill="#2e6448" />
<line x1="125.65" y1="648.50" x2="125.65" y2="651.40" stroke="#1a1a1a" stroke-width="1.1" />
<line x1="134.19" y1="535.00" x2="134.19" y2="554.00" stroke="#1c1c1c" stroke-width="1.25" />
<line x1="132.29" y1="535.00" x2="136.09" y2="535.00" stroke="#1c1c1c" stroke-width="1.4" />
<rect x="131.49" y="554.00" width="5.40" height="94.50" fill="#6aaa3c" />
<line x1="134.19" y1="648.50" x2="134.19" y2="651.40" stroke="#1a1a1a" stroke-width="1.1" />
<line x1="142.73" y1="478.00" x2="142.73" y2="479.60" stroke="#1c1c1c" stroke-width="1.25" />
<line x1="140.83" y1="478.00" x2="144.63" y2="478.00" stroke="#1c1c1c" stroke-width="1.4" />
<rect x="140.03" y="479.60" width="5.40" height="168.90" fill="#4a5060" />
<line x1="142.73" y1="648.50" x2="142.73" y2="651.40" stroke="#1a1a1a" stroke-width="1.1" />
<line x1="151.27" y1="578.20" x2="151.27" y2="596.90" stroke="#1c1c1c" stroke-width="1.25" />
<line x1="149.37" y1="578.20" x2="153.17" y2="578.20" stroke="#1c1c1c" stroke-width="1.4" />
<rect x="148.57" y="596.90" width="5.40" height="51.60" fill="#c8007a" />
<line x1="151.27" y1="648.50" x2="151.27" y2="651.40" stroke="#1a1a1a" stroke-width="1.1" />
<line x1="108.27" y1="655.00" x2="151.57" y2="655.00" stroke="#222" stroke-width="1.3" />
<text x="129.92" y="665.00" font-size="8.0" text-anchor="middle" fill="#1a1a1a" >ML-2</text>
<line x1="159.94" y1="491.60" x2="159.94" y2="494.50" stroke="#1c1c1c" stroke-width="1.25" />
<line x1="158.04" y1="491.60" x2="161.84" y2="491.60" stroke="#1c1c1c" stroke-width="1.4" />
<rect x="157.24" y="494.50" width="5.40" height="154.00" fill="#c4c2cc" />
<line x1="159.94" y1="648.50" x2="159.94" y2="651.40" stroke="#1a1a1a" stroke-width="1.1" />
<line x1="168.48" y1="498.20" x2="168.48" y2="504.50" stroke="#1c1c1c" stroke-width="1.25" />
<line x1="166.58" y1="498.20" x2="170.38" y2="498.20" stroke="#1c1c1c" stroke-width="1.4" />
<rect x="165.78" y="504.50" width="5.40" height="144.00" fill="#b0ba88" />
<line x1="168.48" y1="648.50" x2="168.48" y2="651.40" stroke="#1a1a1a" stroke-width="1.1" />
<line x1="177.02" y1="541.90" x2="177.02" y2="561.00" stroke="#1c1c1c" stroke-width="1.25" />
<line x1="175.12" y1="541.90" x2="178.92" y2="541.90" stroke="#1c1c1c" stroke-width="1.4" />
<rect x="174.32" y="561.00" width="5.40" height="87.50" fill="#2e6448" />
<line x1="177.02" y1="648.50" x2="177.02" y2="651.40" stroke="#1a1a1a" stroke-width="1.1" />
<line x1="185.56" y1="583.40" x2="185.56" y2="602.10" stroke="#1c1c1c" stroke-width="1.25" />
<line x1="183.66" y1="583.40" x2="187.46" y2="583.40" stroke="#1c1c1c" stroke-width="1.4" />
<rect x="182.86" y="602.10" width="5.40" height="46.40" fill="#6aaa3c" />
<line x1="185.56" y1="648.50" x2="185.56" y2="651.40" stroke="#1a1a1a" stroke-width="1.1" />
<line x1="194.10" y1="491.00" x2="194.10" y2="494.70" stroke="#1c1c1c" stroke-width="1.25" />
<line x1="192.20" y1="491.00" x2="196.00" y2="491.00" stroke="#1c1c1c" stroke-width="1.4" />
<rect x="191.40" y="494.70" width="5.40" height="153.80" fill="#4a5060" />
<line x1="194.10" y1="648.50" x2="194.10" y2="651.40" stroke="#1a1a1a" stroke-width="1.1" />
<line x1="202.64" y1="572.60" x2="202.64" y2="578.80" stroke="#1c1c1c" stroke-width="1.25" />
<line x1="200.74" y1="572.60" x2="204.54" y2="572.60" stroke="#1c1c1c" stroke-width="1.4" />
<rect x="199.94" y="578.80" width="5.40" height="69.70" fill="#c8007a" />
<line x1="202.64" y1="648.50" x2="202.64" y2="651.40" stroke="#1a1a1a" stroke-width="1.1" />
<line x1="159.64" y1="655.00" x2="202.94" y2="655.00" stroke="#222" stroke-width="1.3" />
<text x="181.29" y="665.00" font-size="8.0" text-anchor="middle" fill="#1a1a1a" >MOLM-13</text>
<line x1="211.31" y1="478.00" x2="211.31" y2="479.10" stroke="#1c1c1c" stroke-width="1.25" />
<line x1="209.41" y1="478.00" x2="213.21" y2="478.00" stroke="#1c1c1c" stroke-width="1.4" />
<rect x="208.61" y="479.10" width="5.40" height="169.40" fill="#c4c2cc" />
<line x1="211.31" y1="648.50" x2="211.31" y2="651.40" stroke="#1a1a1a" stroke-width="1.1" />
<line x1="219.85" y1="479.50" x2="219.85" y2="481.20" stroke="#1c1c1c" stroke-width="1.25" />
<line x1="217.95" y1="479.50" x2="221.75" y2="479.50" stroke="#1c1c1c" stroke-width="1.4" />
<rect x="217.15" y="481.20" width="5.40" height="167.30" fill="#b0ba88" />
<line x1="219.85" y1="648.50" x2="219.85" y2="651.40" stroke="#1a1a1a" stroke-width="1.1" />
<line x1="228.39" y1="498.90" x2="228.39" y2="524.20" stroke="#1c1c1c" stroke-width="1.25" />
<line x1="226.49" y1="498.90" x2="230.29" y2="498.90" stroke="#1c1c1c" stroke-width="1.4" />
<rect x="225.69" y="524.20" width="5.40" height="124.30" fill="#2e6448" />
<line x1="228.39" y1="648.50" x2="228.39" y2="651.40" stroke="#1a1a1a" stroke-width="1.1" />
<line x1="236.93" y1="573.40" x2="236.93" y2="595.90" stroke="#1c1c1c" stroke-width="1.25" />
<line x1="235.03" y1="573.40" x2="238.83" y2="573.40" stroke="#1c1c1c" stroke-width="1.4" />
<rect x="234.23" y="595.90" width="5.40" height="52.60" fill="#6aaa3c" />
<line x1="236.93" y1="648.50" x2="236.93" y2="651.40" stroke="#1a1a1a" stroke-width="1.1" />
<line x1="245.47" y1="479.00" x2="245.47" y2="480.60" stroke="#1c1c1c" stroke-width="1.25" />
<line x1="243.57" y1="479.00" x2="247.37" y2="479.00" stroke="#1c1c1c" stroke-width="1.4" />
<rect x="242.77" y="480.60" width="5.40" height="167.90" fill="#4a5060" />
<line x1="245.47" y1="648.50" x2="245.47" y2="651.40" stroke="#1a1a1a" stroke-width="1.1" />
<line x1="254.01" y1="583.80" x2="254.01" y2="595.50" stroke="#1c1c1c" stroke-width="1.25" />
<line x1="252.11" y1="583.80" x2="255.91" y2="583.80" stroke="#1c1c1c" stroke-width="1.4" />
<rect x="251.31" y="595.50" width="5.40" height="53.00" fill="#c8007a" />
<line x1="254.01" y1="648.50" x2="254.01" y2="651.40" stroke="#1a1a1a" stroke-width="1.1" />
<line x1="211.01" y1="655.00" x2="254.31" y2="655.00" stroke="#222" stroke-width="1.3" />
<text x="232.66" y="665.00" font-size="8.0" text-anchor="middle" fill="#1a1a1a" >THP-1</text>
<line x1="262.68" y1="480.60" x2="262.68" y2="482.70" stroke="#1c1c1c" stroke-width="1.25" />
<line x1="260.78" y1="480.60" x2="264.58" y2="480.60" stroke="#1c1c1c" stroke-width="1.4" />
<rect x="259.98" y="482.70" width="5.40" height="165.80" fill="#c4c2cc" />
<line x1="262.68" y1="648.50" x2="262.68" y2="651.40" stroke="#1a1a1a" stroke-width="1.1" />
<line x1="271.22" y1="487.40" x2="271.22" y2="501.40" stroke="#1c1c1c" stroke-width="1.25" />
<line x1="269.32" y1="487.40" x2="273.12" y2="487.40" stroke="#1c1c1c" stroke-width="1.4" />
<rect x="268.52" y="501.40" width="5.40" height="147.10" fill="#b0ba88" />
<line x1="271.22" y1="648.50" x2="271.22" y2="651.40" stroke="#1a1a1a" stroke-width="1.1" />
<line x1="279.76" y1="536.70" x2="279.76" y2="551.20" stroke="#1c1c1c" stroke-width="1.25" />
<line x1="277.86" y1="536.70" x2="281.66" y2="536.70" stroke="#1c1c1c" stroke-width="1.4" />
<rect x="277.06" y="551.20" width="5.40" height="97.30" fill="#2e6448" />
<line x1="279.76" y1="648.50" x2="279.76" y2="651.40" stroke="#1a1a1a" stroke-width="1.1" />
<line x1="288.30" y1="593.40" x2="288.30" y2="607.70" stroke="#1c1c1c" stroke-width="1.25" />
<line x1="286.40" y1="593.40" x2="290.20" y2="593.40" stroke="#1c1c1c" stroke-width="1.4" />
<rect x="285.60" y="607.70" width="5.40" height="40.80" fill="#6aaa3c" />
<line x1="288.30" y1="648.50" x2="288.30" y2="651.40" stroke="#1a1a1a" stroke-width="1.1" />
<line x1="296.84" y1="479.50" x2="296.84" y2="481.60" stroke="#1c1c1c" stroke-width="1.25" />
<line x1="294.94" y1="479.50" x2="298.74" y2="479.50" stroke="#1c1c1c" stroke-width="1.4" />
<rect x="294.14" y="481.60" width="5.40" height="166.90" fill="#4a5060" />
<line x1="296.84" y1="648.50" x2="296.84" y2="651.40" stroke="#1a1a1a" stroke-width="1.1" />
<line x1="305.38" y1="596.50" x2="305.38" y2="608.10" stroke="#1c1c1c" stroke-width="1.25" />
<line x1="303.48" y1="596.50" x2="307.28" y2="596.50" stroke="#1c1c1c" stroke-width="1.4" />
<rect x="302.68" y="608.10" width="5.40" height="40.40" fill="#c8007a" />
<line x1="305.38" y1="648.50" x2="305.38" y2="651.40" stroke="#1a1a1a" stroke-width="1.1" />
<line x1="262.38" y1="655.00" x2="305.68" y2="655.00" stroke="#222" stroke-width="1.3" />
<text x="284.03" y="665.00" font-size="8.0" text-anchor="middle" fill="#1a1a1a" >MV4-11</text>
<line x1="314.05" y1="479.00" x2="314.05" y2="481.20" stroke="#1c1c1c" stroke-width="1.25" />
<line x1="312.15" y1="479.00" x2="315.95" y2="479.00" stroke="#1c1c1c" stroke-width="1.4" />
<rect x="311.35" y="481.20" width="5.40" height="167.30" fill="#c4c2cc" />
<line x1="314.05" y1="648.50" x2="314.05" y2="651.40" stroke="#1a1a1a" stroke-width="1.1" />
<line x1="322.59" y1="481.00" x2="322.59" y2="483.30" stroke="#1c1c1c" stroke-width="1.25" />
<line x1="320.69" y1="481.00" x2="324.49" y2="481.00" stroke="#1c1c1c" stroke-width="1.4" />
<rect x="319.89" y="483.30" width="5.40" height="165.20" fill="#b0ba88" />
<line x1="322.59" y1="648.50" x2="322.59" y2="651.40" stroke="#1a1a1a" stroke-width="1.1" />
<line x1="331.13" y1="496.60" x2="331.13" y2="524.20" stroke="#1c1c1c" stroke-width="1.25" />
<line x1="329.23" y1="496.60" x2="333.03" y2="496.60" stroke="#1c1c1c" stroke-width="1.4" />
<rect x="328.43" y="524.20" width="5.40" height="124.30" fill="#2e6448" />
<line x1="331.13" y1="648.50" x2="331.13" y2="651.40" stroke="#1a1a1a" stroke-width="1.1" />
<line x1="339.67" y1="558.90" x2="339.67" y2="581.70" stroke="#1c1c1c" stroke-width="1.25" />
<line x1="337.77" y1="558.90" x2="341.57" y2="558.90" stroke="#1c1c1c" stroke-width="1.4" />
<rect x="336.97" y="581.70" width="5.40" height="66.80" fill="#6aaa3c" />
<line x1="339.67" y1="648.50" x2="339.67" y2="651.40" stroke="#1a1a1a" stroke-width="1.1" />
<line x1="348.21" y1="478.80" x2="348.21" y2="481.60" stroke="#1c1c1c" stroke-width="1.25" />
<line x1="346.31" y1="478.80" x2="350.11" y2="478.80" stroke="#1c1c1c" stroke-width="1.4" />
<rect x="345.51" y="481.60" width="5.40" height="166.90" fill="#4a5060" />
<line x1="348.21" y1="648.50" x2="348.21" y2="651.40" stroke="#1a1a1a" stroke-width="1.1" />
<line x1="356.75" y1="531.10" x2="356.75" y2="536.70" stroke="#1c1c1c" stroke-width="1.25" />
<line x1="354.85" y1="531.10" x2="358.65" y2="531.10" stroke="#1c1c1c" stroke-width="1.4" />
<rect x="354.05" y="536.70" width="5.40" height="111.80" fill="#c8007a" />
<line x1="356.75" y1="648.50" x2="356.75" y2="651.40" stroke="#1a1a1a" stroke-width="1.1" />
<line x1="313.75" y1="655.00" x2="357.05" y2="655.00" stroke="#222" stroke-width="1.3" />
<text x="335.40" y="665.00" font-size="8.0" text-anchor="middle" fill="#1a1a1a" >SHI-1</text>
<line x1="365.42" y1="483.30" x2="365.42" y2="484.10" stroke="#1c1c1c" stroke-width="1.25" />
<line x1="363.52" y1="483.30" x2="367.32" y2="483.30" stroke="#1c1c1c" stroke-width="1.4" />
<rect x="362.72" y="484.10" width="5.40" height="164.40" fill="#c4c2cc" />
<line x1="365.42" y1="648.50" x2="365.42" y2="651.40" stroke="#1a1a1a" stroke-width="1.1" />
<line x1="373.96" y1="483.00" x2="373.96" y2="484.70" stroke="#1c1c1c" stroke-width="1.25" />
<line x1="372.06" y1="483.00" x2="375.86" y2="483.00" stroke="#1c1c1c" stroke-width="1.4" />
<rect x="371.26" y="484.70" width="5.40" height="163.80" fill="#b0ba88" />
<line x1="373.96" y1="648.50" x2="373.96" y2="651.40" stroke="#1a1a1a" stroke-width="1.1" />
<line x1="382.50" y1="488.90" x2="382.50" y2="493.00" stroke="#1c1c1c" stroke-width="1.25" />
<line x1="380.60" y1="488.90" x2="384.40" y2="488.90" stroke="#1c1c1c" stroke-width="1.4" />
<rect x="379.80" y="493.00" width="5.40" height="155.50" fill="#2e6448" />
<line x1="382.50" y1="648.50" x2="382.50" y2="651.40" stroke="#1a1a1a" stroke-width="1.1" />
<line x1="391.04" y1="502.00" x2="391.04" y2="514.90" stroke="#1c1c1c" stroke-width="1.25" />
<line x1="389.14" y1="502.00" x2="392.94" y2="502.00" stroke="#1c1c1c" stroke-width="1.4" />
<rect x="388.34" y="514.90" width="5.40" height="133.60" fill="#6aaa3c" />
<line x1="391.04" y1="648.50" x2="391.04" y2="651.40" stroke="#1a1a1a" stroke-width="1.1" />
<line x1="399.58" y1="483.00" x2="399.58" y2="484.10" stroke="#1c1c1c" stroke-width="1.25" />
<line x1="397.68" y1="483.00" x2="401.48" y2="483.00" stroke="#1c1c1c" stroke-width="1.4" />
<rect x="396.88" y="484.10" width="5.40" height="164.40" fill="#4a5060" />
<line x1="399.58" y1="648.50" x2="399.58" y2="651.40" stroke="#1a1a1a" stroke-width="1.1" />
<line x1="408.12" y1="514.40" x2="408.12" y2="522.10" stroke="#1c1c1c" stroke-width="1.25" />
<line x1="406.22" y1="514.40" x2="410.02" y2="514.40" stroke="#1c1c1c" stroke-width="1.4" />
<rect x="405.42" y="522.10" width="5.40" height="126.40" fill="#c8007a" />
<line x1="408.12" y1="648.50" x2="408.12" y2="651.40" stroke="#1a1a1a" stroke-width="1.1" />
<line x1="365.12" y1="655.00" x2="408.42" y2="655.00" stroke="#222" stroke-width="1.3" />
<text x="386.77" y="665.00" font-size="8.0" text-anchor="middle" fill="#1a1a1a" >KG-1</text>
<rect x="125.80" y="445.80" width="12.60" height="7.20" fill="#c4c2cc" />
<text x="141.60" y="452.40" font-size="7.6" text-anchor="start" fill="#1a1a1a" >DMSO</text>
<rect x="125.80" y="460.40" width="12.60" height="7.20" fill="#b0ba88" />
<text x="141.60" y="467.00" font-size="7.6" text-anchor="start" fill="#1a1a1a" >BMH-21 100nM</text>
<rect x="207.40" y="446.00" width="12.60" height="7.20" fill="#2e6448" />
<text x="223.20" y="452.60" font-size="7.6" text-anchor="start" fill="#1a1a1a" >BMH-21 500nM</text>
<rect x="207.40" y="460.20" width="12.60" height="7.20" fill="#6aaa3c" />
<text x="223.20" y="466.80" font-size="7.6" text-anchor="start" fill="#1a1a1a" >BMH-21 1000nM</text>
<rect x="293.10" y="446.00" width="12.60" height="7.20" fill="#4a5060" />
<text x="308.90" y="452.60" font-size="7.6" text-anchor="start" fill="#1a1a1a" >EtOH</text>
<rect x="293.10" y="460.20" width="12.60" height="7.20" fill="#c8007a" />
<text x="308.90" y="466.80" font-size="7.6" text-anchor="start" fill="#1a1a1a" >ActD 5nM</text>
<rect x="0.75" y="0.75" width="518.5" height="672.5" fill="none" stroke="#000" stroke-width="1.5"/>
</svg>
</body></html>
